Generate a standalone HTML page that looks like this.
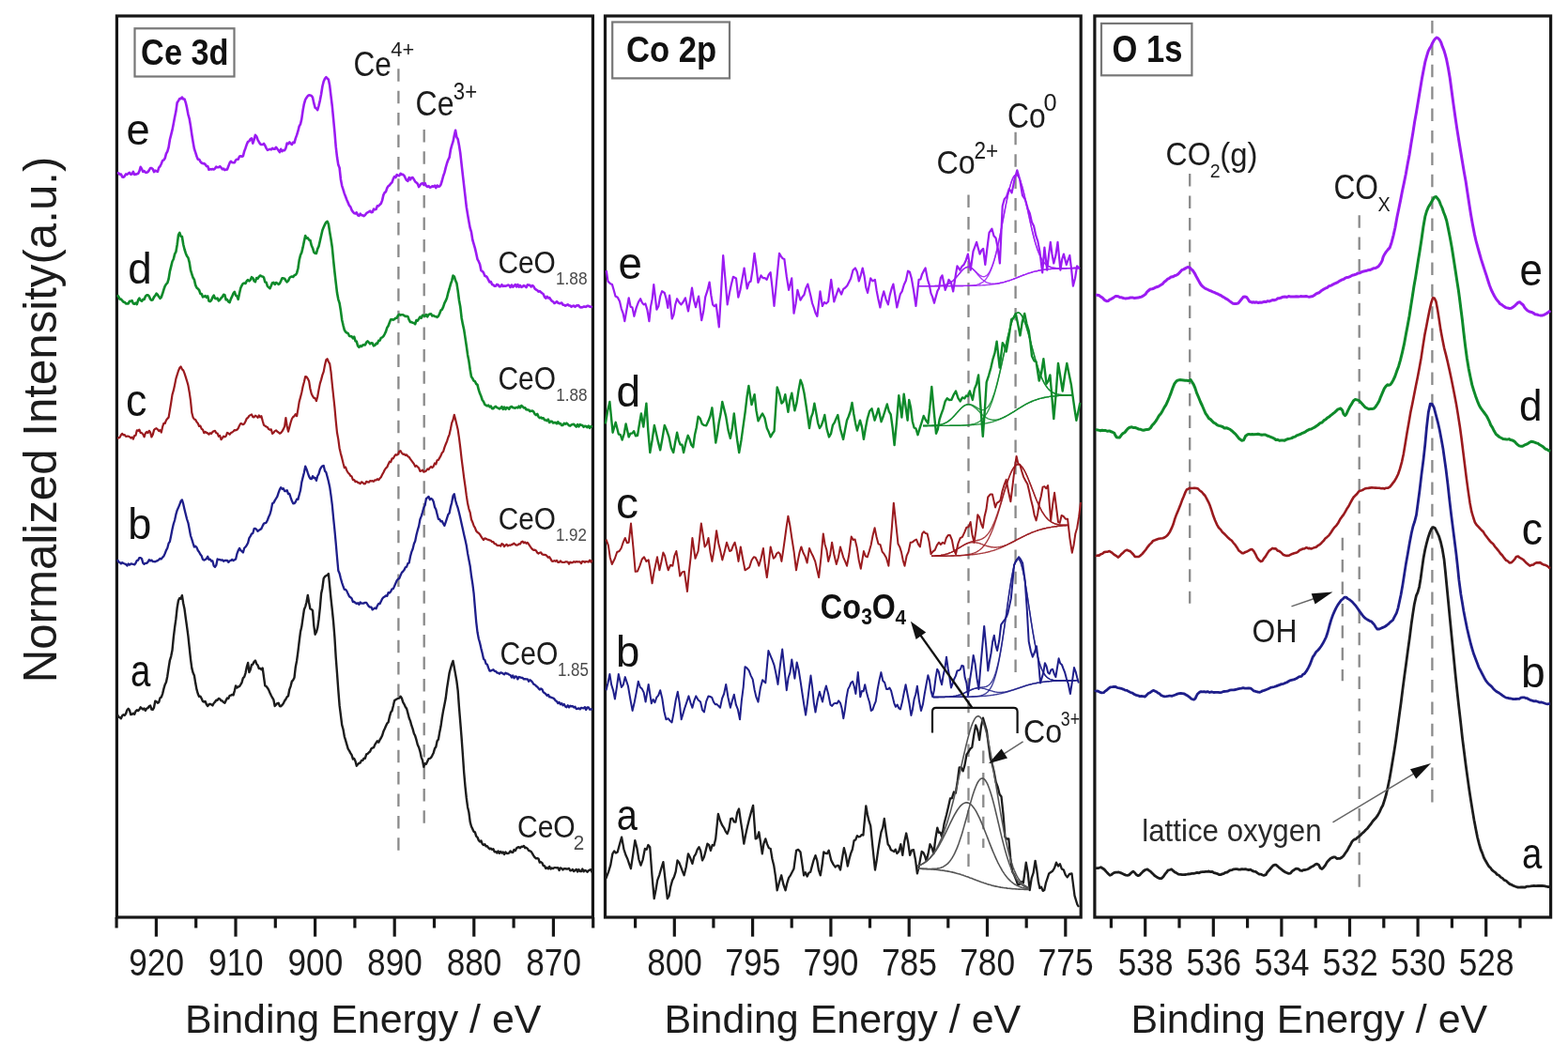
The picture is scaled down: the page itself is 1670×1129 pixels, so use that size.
<!DOCTYPE html>
<html><head><meta charset="utf-8"><style>html,body{margin:0;padding:0;background:#fff;}svg{display:block;}</style></head><body>
<svg width="1670" height="1129" viewBox="0 0 1670 1129" font-family="Liberation Sans, Arial, Helvetica, sans-serif">
<rect width="1670" height="1129" fill="#fff"/>
<g>
<rect x="124.4" y="17.0" width="507.0" height="960.0" fill="none" stroke="#161616" stroke-width="3.2"/>
<rect x="644.5" y="17.0" width="506.7" height="960.0" fill="none" stroke="#161616" stroke-width="3.2"/>
<rect x="1165.9" y="17.0" width="485.7" height="960.0" fill="none" stroke="#161616" stroke-width="3.2"/>
<line x1="166.4" y1="977.0" x2="166.4" y2="997.6" stroke="#161616" stroke-width="3.2"/>
<line x1="251.0" y1="977.0" x2="251.0" y2="997.6" stroke="#161616" stroke-width="3.2"/>
<line x1="335.6" y1="977.0" x2="335.6" y2="997.6" stroke="#161616" stroke-width="3.2"/>
<line x1="420.2" y1="977.0" x2="420.2" y2="997.6" stroke="#161616" stroke-width="3.2"/>
<line x1="504.8" y1="977.0" x2="504.8" y2="997.6" stroke="#161616" stroke-width="3.2"/>
<line x1="589.4" y1="977.0" x2="589.4" y2="997.6" stroke="#161616" stroke-width="3.2"/>
<line x1="124.1" y1="977.0" x2="124.1" y2="988.4" stroke="#161616" stroke-width="3.2"/>
<line x1="208.7" y1="977.0" x2="208.7" y2="988.4" stroke="#161616" stroke-width="3.2"/>
<line x1="293.3" y1="977.0" x2="293.3" y2="988.4" stroke="#161616" stroke-width="3.2"/>
<line x1="377.9" y1="977.0" x2="377.9" y2="988.4" stroke="#161616" stroke-width="3.2"/>
<line x1="462.5" y1="977.0" x2="462.5" y2="988.4" stroke="#161616" stroke-width="3.2"/>
<line x1="547.1" y1="977.0" x2="547.1" y2="988.4" stroke="#161616" stroke-width="3.2"/>
<line x1="631.7" y1="977.0" x2="631.7" y2="988.4" stroke="#161616" stroke-width="3.2"/>
<text x="137.3" y="1039.4" font-size="40.85" fill="#1c1c1c" textLength="58.7" lengthAdjust="spacingAndGlyphs">920</text>
<text x="221.9" y="1039.4" font-size="40.85" fill="#1c1c1c" textLength="58.7" lengthAdjust="spacingAndGlyphs">910</text>
<text x="306.5" y="1039.4" font-size="40.85" fill="#1c1c1c" textLength="58.7" lengthAdjust="spacingAndGlyphs">900</text>
<text x="391.1" y="1039.4" font-size="40.85" fill="#1c1c1c" textLength="58.7" lengthAdjust="spacingAndGlyphs">890</text>
<text x="475.7" y="1039.4" font-size="40.85" fill="#1c1c1c" textLength="58.7" lengthAdjust="spacingAndGlyphs">880</text>
<text x="560.3" y="1039.4" font-size="40.85" fill="#1c1c1c" textLength="58.7" lengthAdjust="spacingAndGlyphs">870</text>
<line x1="718.3" y1="977.0" x2="718.3" y2="997.6" stroke="#161616" stroke-width="3.2"/>
<line x1="801.6" y1="977.0" x2="801.6" y2="997.6" stroke="#161616" stroke-width="3.2"/>
<line x1="884.9" y1="977.0" x2="884.9" y2="997.6" stroke="#161616" stroke-width="3.2"/>
<line x1="968.2" y1="977.0" x2="968.2" y2="997.6" stroke="#161616" stroke-width="3.2"/>
<line x1="1051.5" y1="977.0" x2="1051.5" y2="997.6" stroke="#161616" stroke-width="3.2"/>
<line x1="1134.8" y1="977.0" x2="1134.8" y2="997.6" stroke="#161616" stroke-width="3.2"/>
<line x1="676.6" y1="977.0" x2="676.6" y2="988.4" stroke="#161616" stroke-width="3.2"/>
<line x1="759.9" y1="977.0" x2="759.9" y2="988.4" stroke="#161616" stroke-width="3.2"/>
<line x1="843.2" y1="977.0" x2="843.2" y2="988.4" stroke="#161616" stroke-width="3.2"/>
<line x1="926.5" y1="977.0" x2="926.5" y2="988.4" stroke="#161616" stroke-width="3.2"/>
<line x1="1009.8" y1="977.0" x2="1009.8" y2="988.4" stroke="#161616" stroke-width="3.2"/>
<line x1="1093.2" y1="977.0" x2="1093.2" y2="988.4" stroke="#161616" stroke-width="3.2"/>
<text x="689.2" y="1039.4" font-size="40.85" fill="#1c1c1c" textLength="58.7" lengthAdjust="spacingAndGlyphs">800</text>
<text x="772.3" y="1039.4" font-size="40.85" fill="#1c1c1c" textLength="59.1" lengthAdjust="spacingAndGlyphs">795</text>
<text x="855.6" y="1039.4" font-size="40.85" fill="#1c1c1c" textLength="58.9" lengthAdjust="spacingAndGlyphs">790</text>
<text x="938.9" y="1039.4" font-size="40.85" fill="#1c1c1c" textLength="59.1" lengthAdjust="spacingAndGlyphs">785</text>
<text x="1022.2" y="1039.4" font-size="40.85" fill="#1c1c1c" textLength="58.9" lengthAdjust="spacingAndGlyphs">780</text>
<text x="1105.5" y="1039.4" font-size="41.43" fill="#1c1c1c" textLength="59.1" lengthAdjust="spacingAndGlyphs">775</text>
<line x1="1219.7" y1="977.0" x2="1219.7" y2="997.6" stroke="#161616" stroke-width="3.2"/>
<line x1="1292.3" y1="977.0" x2="1292.3" y2="997.6" stroke="#161616" stroke-width="3.2"/>
<line x1="1364.9" y1="977.0" x2="1364.9" y2="997.6" stroke="#161616" stroke-width="3.2"/>
<line x1="1437.5" y1="977.0" x2="1437.5" y2="997.6" stroke="#161616" stroke-width="3.2"/>
<line x1="1510.1" y1="977.0" x2="1510.1" y2="997.6" stroke="#161616" stroke-width="3.2"/>
<line x1="1582.7" y1="977.0" x2="1582.7" y2="997.6" stroke="#161616" stroke-width="3.2"/>
<line x1="1183.4" y1="977.0" x2="1183.4" y2="988.4" stroke="#161616" stroke-width="3.2"/>
<line x1="1256.0" y1="977.0" x2="1256.0" y2="988.4" stroke="#161616" stroke-width="3.2"/>
<line x1="1328.6" y1="977.0" x2="1328.6" y2="988.4" stroke="#161616" stroke-width="3.2"/>
<line x1="1401.2" y1="977.0" x2="1401.2" y2="988.4" stroke="#161616" stroke-width="3.2"/>
<line x1="1473.8" y1="977.0" x2="1473.8" y2="988.4" stroke="#161616" stroke-width="3.2"/>
<line x1="1546.4" y1="977.0" x2="1546.4" y2="988.4" stroke="#161616" stroke-width="3.2"/>
<line x1="1619.0" y1="977.0" x2="1619.0" y2="988.4" stroke="#161616" stroke-width="3.2"/>
<text x="1190.8" y="1039.4" font-size="40.85" fill="#1c1c1c" textLength="58.7" lengthAdjust="spacingAndGlyphs">538</text>
<text x="1263.4" y="1039.4" font-size="40.85" fill="#1c1c1c" textLength="58.7" lengthAdjust="spacingAndGlyphs">536</text>
<text x="1336.0" y="1039.4" font-size="40.85" fill="#1c1c1c" textLength="58.4" lengthAdjust="spacingAndGlyphs">534</text>
<text x="1408.6" y="1039.4" font-size="40.85" fill="#1c1c1c" textLength="59.1" lengthAdjust="spacingAndGlyphs">532</text>
<text x="1481.2" y="1039.4" font-size="40.85" fill="#1c1c1c" textLength="58.6" lengthAdjust="spacingAndGlyphs">530</text>
<text x="1553.8" y="1039.4" font-size="40.85" fill="#1c1c1c" textLength="58.7" lengthAdjust="spacingAndGlyphs">528</text>
<text x="197.0" y="1099.5" font-size="42.99" fill="#1c1c1c" textLength="379.5" lengthAdjust="spacingAndGlyphs">Binding Energy / eV</text>
<text x="707.4" y="1099.5" font-size="42.99" fill="#1c1c1c" textLength="379.8" lengthAdjust="spacingAndGlyphs">Binding Energy / eV</text>
<text x="1204.6" y="1099.5" font-size="42.99" fill="#1c1c1c" textLength="379.6" lengthAdjust="spacingAndGlyphs">Binding Energy / eV</text>
<text transform="translate(0,723.4) rotate(-90)" x="-3.9" y="59.9" font-size="49.63" fill="#1c1c1c" textLength="560.6" lengthAdjust="spacingAndGlyphs">Normalized Intensity(a.u.)</text>
<rect x="143.5" y="30.3" width="106.0" height="51.2" fill="#fff" stroke="#777" stroke-width="2.2"/>
<text x="150.1" y="68.8" font-size="38.78" font-weight="bold" fill="#111" textLength="93.5" lengthAdjust="spacingAndGlyphs">Ce 3d</text>
<rect x="652.2" y="23.5" width="124.8" height="59.9" fill="#fff" stroke="#777" stroke-width="2.2"/>
<text x="666.9" y="65.5" font-size="38.79" font-weight="bold" fill="#111" textLength="96.3" lengthAdjust="spacingAndGlyphs">Co 2p</text>
<rect x="1173.0" y="25.0" width="96.4" height="55.3" fill="#fff" stroke="#777" stroke-width="2.2"/>
<text x="1184.6" y="65.5" font-size="39.72" font-weight="bold" fill="#111" textLength="74.8" lengthAdjust="spacingAndGlyphs">O 1s</text>
<line x1="424.4" y1="73.3" x2="424.4" y2="906.4" stroke="#8a8a8a" stroke-width="2.3" stroke-dasharray="13.5 9.9" stroke-dashoffset="0.0"/>
<line x1="451.7" y1="137.9" x2="451.7" y2="878.0" stroke="#8a8a8a" stroke-width="2.3" stroke-dasharray="13.5 9.9" stroke-dashoffset="0.0"/>
<line x1="1031.5" y1="207.5" x2="1031.5" y2="923.0" stroke="#8a8a8a" stroke-width="2.3" stroke-dasharray="13.5 9.9" stroke-dashoffset="0.0"/>
<line x1="1081.6" y1="140.8" x2="1081.6" y2="724.6" stroke="#8a8a8a" stroke-width="2.3" stroke-dasharray="13.5 9.9" stroke-dashoffset="0.0"/>
<line x1="1047.3" y1="799.6" x2="1047.3" y2="903.0" stroke="#8a8a8a" stroke-width="2.3" stroke-dasharray="13.5 9.9" stroke-dashoffset="0.0"/>
<line x1="1267.2" y1="185.1" x2="1267.2" y2="642.8" stroke="#8a8a8a" stroke-width="2.3" stroke-dasharray="13.5 9.9" stroke-dashoffset="0.0"/>
<line x1="1447.7" y1="229.2" x2="1447.7" y2="944.9" stroke="#8a8a8a" stroke-width="2.3" stroke-dasharray="13.5 9.9" stroke-dashoffset="0.0"/>
<line x1="1429.8" y1="572.7" x2="1429.8" y2="725.2" stroke="#8a8a8a" stroke-width="2.3" stroke-dasharray="13.5 9.9" stroke-dashoffset="0.0"/>
<line x1="1525.4" y1="22.0" x2="1525.4" y2="858.1" stroke="#8a8a8a" stroke-width="2.3" stroke-dasharray="13.5 9.9" stroke-dashoffset="0.0"/>
<path d="M125.0,183.9 L126.3,184.4 L127.6,185.8 L128.9,185.5 L130.2,188.4 L131.5,188.7 L132.8,187.5 L134.1,185.4 L135.4,185.9 L136.7,184.7 L138.0,183.9 L139.3,185.6 L140.6,185.4 L141.9,182.9 L143.2,186.0 L144.5,185.6 L145.8,185.4 L147.1,184.9 L148.4,182.3 L149.7,177.8 L151.0,180.0 L152.3,183.0 L153.6,182.2 L154.9,183.6 L156.2,183.7 L157.5,183.1 L158.8,181.4 L160.1,179.0 L161.4,179.1 L162.7,180.0 L164.0,183.1 L165.3,181.6 L166.6,182.3 L167.9,182.8 L169.2,178.7 L170.5,177.2 L171.8,174.5 L173.1,171.1 L174.4,170.4 L175.7,168.6 L177.0,163.7 L178.3,161.3 L179.6,156.9 L180.9,148.7 L182.2,143.6 L183.5,138.4 L184.8,131.7 L186.1,124.7 L187.4,118.6 L188.7,109.3 L190.0,107.5 L191.3,105.0 L192.6,105.3 L193.9,103.6 L195.2,105.5 L196.5,105.5 L197.8,109.3 L199.1,114.9 L200.4,121.8 L201.7,126.5 L203.0,134.1 L204.3,143.2 L205.6,151.3 L206.9,158.5 L208.2,162.3 L209.5,166.5 L210.8,169.8 L212.1,169.7 L213.4,172.1 L214.7,173.5 L216.0,174.2 L217.3,174.1 L218.6,175.1 L219.9,176.9 L221.2,177.0 L222.5,180.7 L223.8,180.1 L225.1,180.4 L226.4,180.0 L227.7,180.5 L229.0,179.5 L230.3,177.5 L231.6,178.3 L232.9,178.1 L234.2,177.2 L235.5,178.5 L236.8,180.2 L238.1,179.6 L239.4,181.1 L240.7,180.6 L242.0,180.4 L243.3,177.1 L244.6,173.6 L245.9,171.8 L247.2,172.9 L248.5,173.3 L249.8,173.3 L251.1,170.5 L252.4,169.7 L253.7,169.6 L255.0,166.8 L256.3,166.2 L257.6,166.7 L258.9,166.2 L260.2,161.1 L261.5,157.7 L262.8,153.8 L264.1,150.9 L265.4,150.4 L266.7,148.2 L268.0,147.4 L269.3,152.7 L270.6,148.9 L271.9,143.8 L273.2,145.3 L274.5,148.8 L275.8,151.2 L277.1,153.3 L278.4,154.0 L279.7,154.0 L281.0,153.0 L282.3,155.0 L283.6,157.9 L284.9,159.9 L286.2,159.4 L287.5,158.9 L288.8,159.4 L290.1,157.9 L291.4,158.7 L292.7,158.8 L294.0,156.8 L295.3,158.5 L296.6,160.2 L297.9,162.1 L299.2,158.8 L300.5,161.1 L301.8,160.0 L303.1,160.1 L304.4,157.8 L305.7,152.6 L307.0,153.1 L308.3,151.5 L309.6,152.9 L310.9,153.9 L312.2,151.6 L313.5,152.1 L314.8,147.4 L316.1,143.9 L317.4,139.7 L318.7,134.4 L320.0,132.3 L321.3,126.6 L322.6,117.5 L323.9,110.6 L325.2,106.1 L326.5,104.0 L327.8,102.2 L329.1,101.4 L330.4,101.5 L331.7,101.9 L333.0,103.8 L334.3,109.9 L335.6,114.6 L336.9,115.5 L338.2,117.2 L339.5,112.6 L340.8,107.1 L342.1,100.3 L343.4,92.0 L344.7,86.7 L346.0,83.9 L347.3,82.2 L348.6,83.5 L349.9,84.7 L351.2,91.3 L352.5,102.3 L353.8,113.0 L355.1,126.6 L356.4,140.4 L357.7,156.2 L359.0,167.3 L360.3,175.6 L361.6,178.8 L362.9,190.9 L364.2,197.8 L365.5,201.8 L366.8,206.1 L368.1,209.5 L369.4,213.0 L370.7,215.9 L372.0,218.9 L373.3,220.4 L374.6,223.8 L375.9,225.7 L377.2,227.1 L378.5,227.5 L379.8,226.3 L381.1,229.3 L382.4,229.8 L383.7,227.7 L385.0,229.2 L386.3,229.4 L387.6,230.1 L388.9,229.0 L390.2,227.3 L391.5,226.3 L392.8,225.6 L394.1,224.7 L395.4,226.2 L396.7,226.0 L398.0,222.6 L399.3,223.3 L400.6,222.8 L401.9,219.3 L403.2,219.5 L404.5,218.0 L405.8,216.8 L407.1,213.4 L408.4,207.6 L409.7,205.1 L411.0,204.1 L412.3,200.2 L413.6,198.1 L414.9,197.3 L416.2,195.4 L417.5,194.3 L418.8,190.6 L420.1,188.0 L421.4,189.0 L422.7,186.1 L424.0,187.0 L425.3,187.2 L426.6,184.9 L427.9,185.9 L429.2,185.8 L430.5,187.1 L431.8,189.8 L433.1,192.0 L434.4,192.8 L435.7,189.1 L437.0,191.3 L438.3,189.3 L439.6,189.1 L440.9,191.1 L442.2,193.5 L443.5,194.5 L444.8,195.7 L446.1,199.1 L447.4,197.2 L448.7,195.6 L450.0,195.1 L451.3,196.8 L452.6,195.1 L453.9,198.0 L455.2,198.9 L456.5,198.2 L457.8,199.7 L459.1,199.2 L460.4,198.2 L461.7,198.8 L463.0,197.7 L464.3,200.1 L465.6,197.5 L466.9,198.8 L468.2,198.4 L469.5,196.7 L470.8,192.5 L472.1,187.5 L473.4,183.9 L474.7,178.6 L476.0,174.0 L477.3,170.3 L478.6,167.7 L479.9,159.7 L481.2,154.8 L482.5,150.9 L483.8,144.6 L485.1,138.7 L486.4,146.1 L487.7,148.2 L489.0,155.0 L490.3,163.3 L491.6,175.1 L492.9,186.7 L494.2,197.9 L495.5,209.1 L496.8,220.5 L498.1,228.5 L499.4,236.0 L500.7,242.9 L502.0,247.1 L503.3,255.5 L504.6,259.8 L505.9,264.4 L507.2,269.9 L508.5,276.1 L509.8,278.4 L511.1,281.4 L512.4,288.1 L513.7,288.9 L515.0,290.4 L516.3,293.9 L517.6,294.1 L518.9,295.5 L520.2,298.2 L521.5,300.5 L522.8,300.0 L524.1,303.1 L525.4,303.5 L526.7,304.7 L528.0,304.6 L529.3,302.9 L530.6,303.4 L531.9,305.1 L533.2,305.1 L534.5,303.2 L535.8,304.9 L537.1,304.4 L538.4,304.7 L539.7,304.2 L541.0,303.6 L542.3,304.0 L543.6,306.0 L544.9,303.5 L546.2,305.7 L547.5,304.6 L548.8,303.1 L550.1,305.5 L551.4,303.0 L552.7,305.6 L554.0,304.0 L555.3,305.8 L556.6,305.2 L557.9,304.0 L559.2,304.9 L560.5,306.1 L561.8,303.4 L563.1,303.6 L564.4,303.8 L565.7,305.5 L567.0,304.0 L568.3,305.1 L569.6,307.4 L570.9,308.5 L572.2,309.1 L573.5,310.6 L574.8,310.1 L576.1,311.2 L577.4,312.3 L578.7,313.2 L580.0,316.3 L581.3,317.7 L582.6,315.8 L583.9,317.4 L585.2,317.0 L586.5,319.1 L587.8,320.6 L589.1,321.3 L590.4,323.0 L591.7,322.3 L593.0,321.1 L594.3,322.5 L595.6,323.1 L596.9,323.1 L598.2,322.5 L599.5,324.7 L600.8,324.7 L602.1,325.7 L603.4,325.0 L604.7,324.4 L606.0,325.4 L607.3,325.5 L608.6,326.8 L609.9,325.9 L611.2,325.6 L612.5,326.9 L613.8,325.6 L615.1,325.4 L616.4,325.4 L617.7,327.2 L619.0,327.4 L620.3,327.3 L621.6,326.5 L622.9,326.6 L624.2,326.9 L625.5,325.7 L626.8,325.9 L628.1,326.6 L629.4,326.8 L630.7,327.2" fill="none" stroke="#9B1BF2" stroke-width="2.6" stroke-linejoin="round"/>
<path d="M125.0,314.2 L126.3,316.0 L127.6,318.6 L128.9,318.6 L130.2,320.1 L131.5,321.8 L132.8,321.9 L134.1,323.5 L135.4,323.4 L136.7,323.4 L138.0,320.7 L139.3,320.9 L140.6,320.2 L141.9,323.3 L143.2,323.8 L144.5,322.6 L145.8,324.1 L147.1,319.8 L148.4,317.7 L149.7,319.9 L151.0,320.7 L152.3,318.9 L153.6,318.9 L154.9,315.7 L156.2,314.4 L157.5,314.3 L158.8,315.4 L160.1,318.6 L161.4,319.8 L162.7,319.3 L164.0,316.4 L165.3,314.9 L166.6,312.6 L167.9,314.0 L169.2,315.9 L170.5,317.9 L171.8,316.5 L173.1,312.8 L174.4,308.5 L175.7,304.8 L177.0,302.6 L178.3,301.4 L179.6,297.2 L180.9,289.1 L182.2,283.9 L183.5,278.5 L184.8,276.0 L186.1,270.6 L187.4,268.2 L188.7,260.5 L190.0,250.4 L191.3,247.8 L192.6,251.7 L193.9,252.0 L195.2,260.3 L196.5,265.5 L197.8,269.7 L199.1,272.8 L200.4,274.5 L201.7,279.3 L203.0,287.6 L204.3,291.8 L205.6,295.8 L206.9,297.9 L208.2,303.6 L209.5,306.5 L210.8,307.6 L212.1,309.0 L213.4,312.9 L214.7,313.1 L216.0,316.3 L217.3,315.9 L218.6,315.1 L219.9,316.8 L221.2,315.5 L222.5,320.6 L223.8,321.1 L225.1,319.8 L226.4,316.7 L227.7,314.6 L229.0,317.8 L230.3,318.2 L231.6,317.6 L232.9,320.4 L234.2,319.2 L235.5,317.5 L236.8,316.1 L238.1,313.8 L239.4,314.3 L240.7,319.3 L242.0,319.1 L243.3,321.4 L244.6,322.1 L245.9,318.3 L247.2,315.7 L248.5,312.6 L249.8,310.9 L251.1,314.6 L252.4,315.5 L253.7,318.8 L255.0,312.6 L256.3,306.8 L257.6,304.0 L258.9,301.9 L260.2,301.6 L261.5,301.9 L262.8,299.2 L264.1,298.1 L265.4,299.4 L266.7,298.1 L268.0,295.2 L269.3,296.1 L270.6,299.2 L271.9,300.2 L273.2,296.1 L274.5,296.7 L275.8,294.8 L277.1,293.5 L278.4,294.2 L279.7,294.5 L281.0,295.5 L282.3,300.5 L283.6,300.8 L284.9,304.9 L286.2,306.1 L287.5,307.2 L288.8,304.2 L290.1,301.2 L291.4,300.9 L292.7,302.9 L294.0,301.0 L295.3,301.6 L296.6,302.9 L297.9,302.0 L299.2,299.3 L300.5,296.3 L301.8,296.4 L303.1,296.8 L304.4,298.8 L305.7,300.3 L307.0,299.1 L308.3,296.2 L309.6,294.9 L310.9,294.5 L312.2,294.9 L313.5,293.2 L314.8,292.7 L316.1,290.9 L317.4,286.0 L318.7,277.1 L320.0,271.8 L321.3,268.9 L322.6,263.4 L323.9,257.1 L325.2,251.1 L326.5,253.8 L327.8,253.4 L329.1,255.5 L330.4,255.9 L331.7,261.3 L333.0,264.2 L334.3,268.5 L335.6,269.8 L336.9,270.0 L338.2,265.1 L339.5,262.4 L340.8,256.7 L342.1,251.0 L343.4,245.2 L344.7,242.0 L346.0,239.1 L347.3,236.7 L348.6,235.8 L349.9,238.8 L351.2,247.2 L352.5,254.8 L353.8,263.5 L355.1,277.0 L356.4,289.5 L357.7,300.8 L359.0,311.8 L360.3,318.8 L361.6,322.9 L362.9,330.8 L364.2,340.7 L365.5,346.3 L366.8,351.3 L368.1,353.5 L369.4,354.6 L370.7,355.0 L372.0,357.7 L373.3,358.2 L374.6,358.4 L375.9,360.4 L377.2,358.7 L378.5,363.2 L379.8,363.8 L381.1,368.4 L382.4,369.8 L383.7,368.3 L385.0,369.0 L386.3,367.6 L387.6,367.3 L388.9,367.5 L390.2,364.6 L391.5,363.3 L392.8,364.7 L394.1,366.3 L395.4,365.2 L396.7,365.6 L398.0,368.4 L399.3,367.9 L400.6,365.9 L401.9,366.1 L403.2,362.9 L404.5,362.7 L405.8,359.9 L407.1,359.4 L408.4,358.1 L409.7,355.8 L411.0,353.1 L412.3,348.9 L413.6,347.0 L414.9,343.5 L416.2,340.3 L417.5,340.3 L418.8,340.7 L420.1,340.0 L421.4,338.8 L422.7,338.8 L424.0,335.9 L425.3,334.8 L426.6,335.6 L427.9,335.2 L429.2,335.2 L430.5,336.1 L431.8,337.0 L433.1,336.8 L434.4,337.2 L435.7,340.7 L437.0,343.0 L438.3,343.1 L439.6,343.7 L440.9,344.1 L442.2,345.2 L443.5,341.0 L444.8,341.6 L446.1,339.6 L447.4,337.5 L448.7,338.7 L450.0,335.9 L451.3,336.0 L452.6,336.7 L453.9,335.0 L455.2,337.3 L456.5,335.1 L457.8,334.5 L459.1,334.4 L460.4,336.5 L461.7,336.1 L463.0,336.9 L464.3,337.2 L465.6,337.9 L466.9,336.7 L468.2,334.0 L469.5,330.6 L470.8,329.6 L472.1,326.9 L473.4,322.8 L474.7,320.4 L476.0,317.3 L477.3,311.8 L478.6,307.5 L479.9,302.8 L481.2,299.1 L482.5,293.6 L483.8,294.5 L485.1,298.8 L486.4,301.6 L487.7,309.9 L489.0,320.0 L490.3,327.1 L491.6,338.4 L492.9,345.4 L494.2,351.2 L495.5,359.9 L496.8,368.5 L498.1,377.9 L499.4,384.6 L500.7,393.7 L502.0,401.3 L503.3,403.1 L504.6,405.6 L505.9,406.2 L507.2,408.9 L508.5,409.9 L509.8,415.2 L511.1,419.1 L512.4,422.1 L513.7,426.0 L515.0,427.7 L516.3,430.7 L517.6,431.7 L518.9,432.4 L520.2,431.7 L521.5,433.3 L522.8,432.5 L524.1,435.2 L525.4,435.1 L526.7,433.6 L528.0,432.9 L529.3,434.1 L530.6,434.6 L531.9,435.4 L533.2,434.6 L534.5,433.2 L535.8,435.8 L537.1,433.6 L538.4,436.0 L539.7,434.1 L541.0,434.5 L542.3,435.7 L543.6,433.4 L544.9,433.1 L546.2,434.1 L547.5,434.5 L548.8,434.6 L550.1,433.9 L551.4,434.4 L552.7,432.7 L554.0,434.3 L555.3,432.0 L556.6,433.0 L557.9,434.5 L559.2,434.2 L560.5,436.2 L561.8,436.4 L563.1,436.5 L564.4,438.1 L565.7,437.7 L567.0,437.5 L568.3,438.6 L569.6,441.0 L570.9,442.1 L572.2,440.8 L573.5,443.8 L574.8,445.1 L576.1,444.6 L577.4,445.6 L578.7,445.3 L580.0,447.3 L581.3,447.5 L582.6,448.2 L583.9,446.7 L585.2,450.0 L586.5,448.9 L587.8,448.8 L589.1,450.5 L590.4,450.0 L591.7,450.1 L593.0,451.1 L594.3,449.4 L595.6,451.2 L596.9,451.0 L598.2,452.9 L599.5,452.9 L600.8,450.9 L602.1,451.7 L603.4,450.7 L604.7,451.8 L606.0,453.2 L607.3,453.6 L608.6,452.4 L609.9,452.0 L611.2,451.8 L612.5,453.3 L613.8,454.5 L615.1,452.1 L616.4,454.4 L617.7,452.1 L619.0,452.8 L620.3,453.1 L621.6,454.8 L622.9,453.8 L624.2,454.1 L625.5,455.1 L626.8,453.6 L628.1,455.8 L629.4,454.0 L630.7,455.1" fill="none" stroke="#0E8A2A" stroke-width="2.6" stroke-linejoin="round"/>
<path d="M125.0,466.8 L126.3,466.5 L127.6,465.7 L128.9,463.2 L130.2,461.9 L131.5,463.3 L132.8,463.1 L134.1,465.0 L135.4,464.7 L136.7,464.6 L138.0,465.3 L139.3,466.5 L140.6,465.7 L141.9,467.5 L143.2,464.0 L144.5,463.7 L145.8,458.4 L147.1,458.8 L148.4,457.7 L149.7,461.0 L151.0,461.1 L152.3,462.6 L153.6,465.3 L154.9,461.4 L156.2,460.0 L157.5,461.2 L158.8,458.8 L160.1,460.4 L161.4,465.5 L162.7,463.1 L164.0,458.1 L165.3,456.7 L166.6,456.2 L167.9,457.4 L169.2,459.0 L170.5,458.2 L171.8,460.5 L173.1,454.7 L174.4,450.8 L175.7,451.0 L177.0,447.7 L178.3,445.9 L179.6,444.6 L180.9,436.9 L182.2,429.0 L183.5,420.4 L184.8,415.9 L186.1,409.9 L187.4,403.4 L188.7,399.2 L190.0,395.0 L191.3,391.8 L192.6,390.5 L193.9,393.3 L195.2,394.4 L196.5,397.6 L197.8,401.6 L199.1,405.8 L200.4,410.4 L201.7,417.7 L203.0,426.6 L204.3,439.5 L205.6,444.6 L206.9,446.5 L208.2,447.1 L209.5,449.4 L210.8,451.0 L212.1,454.0 L213.4,453.6 L214.7,456.8 L216.0,457.6 L217.3,461.2 L218.6,459.8 L219.9,460.9 L221.2,461.4 L222.5,462.7 L223.8,461.1 L225.1,461.9 L226.4,460.0 L227.7,459.2 L229.0,458.8 L230.3,461.2 L231.6,461.5 L232.9,464.8 L234.2,464.0 L235.5,468.2 L236.8,466.6 L238.1,464.7 L239.4,465.3 L240.7,464.5 L242.0,460.9 L243.3,461.5 L244.6,462.8 L245.9,461.1 L247.2,460.5 L248.5,459.5 L249.8,458.1 L251.1,458.3 L252.4,457.8 L253.7,456.2 L255.0,453.2 L256.3,451.0 L257.6,451.4 L258.9,452.2 L260.2,451.3 L261.5,448.8 L262.8,445.7 L264.1,444.9 L265.4,442.9 L266.7,442.1 L268.0,441.4 L269.3,444.1 L270.6,444.4 L271.9,442.6 L273.2,443.4 L274.5,444.9 L275.8,442.5 L277.1,444.3 L278.4,443.2 L279.7,448.3 L281.0,452.8 L282.3,453.6 L283.6,454.5 L284.9,455.1 L286.2,457.1 L287.5,457.8 L288.8,457.3 L290.1,461.9 L291.4,460.9 L292.7,459.1 L294.0,458.4 L295.3,459.6 L296.6,460.5 L297.9,461.7 L299.2,461.0 L300.5,459.4 L301.8,457.1 L303.1,454.3 L304.4,445.0 L305.7,453.9 L307.0,459.6 L308.3,454.9 L309.6,450.0 L310.9,446.0 L312.2,444.0 L313.5,443.2 L314.8,441.2 L316.1,443.2 L317.4,435.9 L318.7,427.9 L320.0,423.1 L321.3,418.0 L322.6,411.5 L323.9,406.8 L325.2,401.0 L326.5,401.3 L327.8,403.3 L329.1,405.9 L330.4,414.0 L331.7,419.3 L333.0,421.9 L334.3,423.9 L335.6,424.1 L336.9,427.1 L338.2,422.5 L339.5,415.1 L340.8,408.6 L342.1,404.4 L343.4,399.4 L344.7,395.9 L346.0,388.9 L347.3,383.4 L348.6,382.2 L349.9,385.3 L351.2,387.4 L352.5,396.1 L353.8,409.3 L355.1,421.5 L356.4,433.7 L357.7,448.1 L359.0,460.8 L360.3,467.9 L361.6,477.5 L362.9,483.1 L364.2,487.9 L365.5,493.3 L366.8,498.1 L368.1,497.6 L369.4,501.3 L370.7,503.5 L372.0,504.7 L373.3,506.8 L374.6,507.5 L375.9,511.1 L377.2,511.1 L378.5,513.1 L379.8,512.7 L381.1,513.9 L382.4,514.4 L383.7,515.2 L385.0,513.3 L386.3,514.0 L387.6,515.3 L388.9,515.2 L390.2,512.8 L391.5,513.4 L392.8,513.7 L394.1,512.1 L395.4,512.5 L396.7,512.1 L398.0,512.9 L399.3,511.3 L400.6,511.5 L401.9,510.2 L403.2,511.2 L404.5,509.6 L405.8,508.2 L407.1,505.6 L408.4,503.2 L409.7,500.5 L411.0,498.6 L412.3,497.5 L413.6,494.4 L414.9,491.7 L416.2,492.1 L417.5,488.3 L418.8,488.3 L420.1,485.9 L421.4,484.2 L422.7,484.7 L424.0,483.7 L425.3,480.8 L426.6,480.2 L427.9,482.5 L429.2,483.8 L430.5,483.7 L431.8,484.9 L433.1,484.4 L434.4,486.2 L435.7,486.8 L437.0,488.9 L438.3,490.6 L439.6,492.3 L440.9,494.1 L442.2,496.9 L443.5,496.0 L444.8,497.2 L446.1,498.5 L447.4,501.9 L448.7,501.5 L450.0,500.7 L451.3,502.7 L452.6,502.2 L453.9,501.5 L455.2,499.5 L456.5,500.1 L457.8,498.2 L459.1,497.0 L460.4,498.1 L461.7,496.7 L463.0,493.4 L464.3,494.3 L465.6,490.2 L466.9,489.9 L468.2,487.6 L469.5,485.4 L470.8,482.3 L472.1,481.0 L473.4,476.6 L474.7,473.2 L476.0,470.1 L477.3,466.0 L478.6,462.8 L479.9,457.0 L481.2,450.4 L482.5,447.3 L483.8,441.8 L485.1,446.7 L486.4,452.2 L487.7,457.8 L489.0,466.7 L490.3,477.0 L491.6,488.7 L492.9,498.7 L494.2,509.0 L495.5,518.0 L496.8,527.9 L498.1,536.3 L499.4,542.1 L500.7,545.9 L502.0,553.2 L503.3,556.2 L504.6,560.0 L505.9,562.1 L507.2,565.5 L508.5,567.0 L509.8,567.8 L511.1,569.2 L512.4,571.4 L513.7,573.4 L515.0,575.1 L516.3,573.4 L517.6,573.8 L518.9,574.5 L520.2,574.9 L521.5,575.4 L522.8,575.8 L524.1,577.2 L525.4,577.1 L526.7,579.2 L528.0,579.3 L529.3,580.8 L530.6,581.1 L531.9,580.8 L533.2,581.7 L534.5,579.1 L535.8,579.8 L537.1,582.1 L538.4,580.6 L539.7,579.8 L541.0,581.5 L542.3,580.5 L543.6,580.8 L544.9,580.1 L546.2,579.6 L547.5,578.7 L548.8,580.0 L550.1,580.7 L551.4,580.5 L552.7,579.4 L554.0,579.5 L555.3,577.3 L556.6,576.7 L557.9,578.3 L559.2,577.5 L560.5,578.8 L561.8,577.8 L563.1,579.7 L564.4,581.6 L565.7,583.5 L567.0,585.0 L568.3,585.9 L569.6,585.6 L570.9,586.4 L572.2,588.6 L573.5,589.6 L574.8,588.7 L576.1,588.4 L577.4,590.4 L578.7,590.8 L580.0,590.9 L581.3,591.1 L582.6,592.3 L583.9,593.9 L585.2,593.2 L586.5,595.4 L587.8,597.6 L589.1,597.8 L590.4,597.1 L591.7,597.8 L593.0,596.9 L594.3,599.0 L595.6,598.8 L596.9,597.4 L598.2,598.7 L599.5,598.9 L600.8,599.0 L602.1,598.4 L603.4,598.3 L604.7,598.5 L606.0,600.7 L607.3,598.6 L608.6,599.3 L609.9,599.1 L611.2,598.1 L612.5,598.8 L613.8,598.1 L615.1,598.3 L616.4,598.4 L617.7,598.3 L619.0,600.1 L620.3,597.9 L621.6,598.0 L622.9,598.9 L624.2,598.0 L625.5,598.3 L626.8,598.6 L628.1,596.7 L629.4,598.5 L630.7,596.7" fill="none" stroke="#9A1A1E" stroke-width="2.2" stroke-linejoin="round"/>
<path d="M125.0,596.2 L126.3,598.4 L127.6,599.1 L128.9,600.4 L130.2,599.1 L131.5,600.0 L132.8,600.5 L134.1,601.1 L135.4,602.6 L136.7,600.5 L138.0,601.7 L139.3,600.5 L140.6,600.7 L141.9,601.0 L143.2,601.4 L144.5,599.8 L145.8,597.0 L147.1,596.7 L148.4,594.1 L149.7,594.1 L151.0,595.2 L152.3,599.6 L153.6,600.9 L154.9,599.9 L156.2,599.9 L157.5,598.6 L158.8,596.2 L160.1,597.4 L161.4,596.6 L162.7,598.1 L164.0,598.1 L165.3,598.3 L166.6,597.6 L167.9,597.1 L169.2,596.1 L170.5,594.9 L171.8,595.4 L173.1,593.6 L174.4,592.4 L175.7,589.5 L177.0,586.1 L178.3,583.7 L179.6,578.7 L180.9,576.8 L182.2,570.4 L183.5,563.8 L184.8,558.1 L186.1,554.0 L187.4,547.9 L188.7,543.4 L190.0,540.6 L191.3,537.3 L192.6,533.8 L193.9,532.4 L195.2,536.7 L196.5,542.5 L197.8,547.8 L199.1,553.0 L200.4,556.8 L201.7,563.5 L203.0,570.5 L204.3,574.3 L205.6,578.7 L206.9,582.6 L208.2,581.8 L209.5,583.1 L210.8,586.3 L212.1,588.0 L213.4,590.5 L214.7,592.1 L216.0,595.8 L217.3,596.6 L218.6,596.0 L219.9,595.1 L221.2,592.8 L222.5,596.0 L223.8,595.6 L225.1,597.7 L226.4,597.4 L227.7,602.7 L229.0,604.0 L230.3,601.9 L231.6,595.5 L232.9,596.0 L234.2,596.2 L235.5,596.6 L236.8,596.3 L238.1,597.8 L239.4,596.9 L240.7,597.0 L242.0,596.9 L243.3,598.9 L244.6,597.3 L245.9,597.0 L247.2,595.9 L248.5,597.1 L249.8,596.2 L251.1,595.5 L252.4,589.9 L253.7,586.5 L255.0,583.9 L256.3,586.1 L257.6,587.2 L258.9,588.5 L260.2,583.8 L261.5,582.5 L262.8,580.6 L264.1,578.3 L265.4,573.1 L266.7,571.1 L268.0,568.6 L269.3,568.0 L270.6,563.2 L271.9,562.9 L273.2,563.9 L274.5,565.8 L275.8,564.8 L277.1,564.1 L278.4,563.0 L279.7,560.1 L281.0,557.6 L282.3,557.2 L283.6,556.6 L284.9,554.0 L286.2,550.5 L287.5,547.7 L288.8,543.1 L290.1,536.3 L291.4,535.6 L292.7,533.1 L294.0,531.0 L295.3,528.9 L296.6,524.8 L297.9,521.4 L299.2,519.2 L300.5,520.9 L301.8,520.3 L303.1,523.0 L304.4,523.0 L305.7,522.1 L307.0,526.1 L308.3,525.9 L309.6,529.9 L310.9,533.6 L312.2,536.3 L313.5,536.2 L314.8,534.6 L316.1,531.6 L317.4,531.9 L318.7,527.0 L320.0,522.3 L321.3,513.6 L322.6,508.4 L323.9,503.2 L325.2,496.6 L326.5,499.6 L327.8,503.7 L329.1,507.4 L330.4,509.8 L331.7,510.2 L333.0,507.1 L334.3,509.2 L335.6,508.8 L336.9,511.9 L338.2,507.0 L339.5,504.7 L340.8,500.1 L342.1,497.7 L343.4,496.3 L344.7,496.0 L346.0,501.6 L347.3,503.0 L348.6,507.7 L349.9,512.8 L351.2,518.7 L352.5,527.6 L353.8,537.9 L355.1,551.7 L356.4,564.3 L357.7,578.3 L359.0,593.5 L360.3,607.7 L361.6,610.8 L362.9,616.0 L364.2,620.6 L365.5,624.5 L366.8,627.9 L368.1,627.8 L369.4,629.6 L370.7,632.6 L372.0,635.3 L373.3,636.2 L374.6,637.3 L375.9,641.2 L377.2,640.9 L378.5,642.1 L379.8,642.9 L381.1,642.2 L382.4,643.9 L383.7,641.4 L385.0,642.7 L386.3,642.7 L387.6,642.5 L388.9,641.8 L390.2,641.9 L391.5,643.8 L392.8,645.8 L394.1,646.7 L395.4,646.6 L396.7,649.4 L398.0,648.4 L399.3,647.6 L400.6,648.3 L401.9,645.1 L403.2,643.0 L404.5,643.2 L405.8,640.6 L407.1,637.7 L408.4,636.3 L409.7,635.6 L411.0,634.4 L412.3,634.8 L413.6,631.1 L414.9,631.6 L416.2,630.1 L417.5,627.3 L418.8,627.1 L420.1,624.2 L421.4,621.2 L422.7,618.3 L424.0,616.8 L425.3,616.0 L426.6,612.9 L427.9,609.9 L429.2,608.6 L430.5,607.1 L431.8,604.3 L433.1,603.7 L434.4,600.1 L435.7,599.5 L437.0,592.8 L438.3,587.9 L439.6,584.8 L440.9,579.3 L442.2,576.3 L443.5,569.8 L444.8,564.7 L446.1,560.4 L447.4,553.2 L448.7,549.9 L450.0,545.5 L451.3,540.7 L452.6,538.3 L453.9,531.2 L455.2,530.1 L456.5,528.9 L457.8,532.2 L459.1,531.0 L460.4,531.7 L461.7,534.2 L463.0,540.1 L464.3,542.5 L465.6,547.8 L466.9,552.8 L468.2,553.2 L469.5,555.4 L470.8,555.0 L472.1,557.7 L473.4,559.9 L474.7,556.1 L476.0,552.2 L477.3,548.0 L478.6,546.5 L479.9,540.1 L481.2,535.2 L482.5,528.2 L483.8,526.2 L485.1,533.0 L486.4,537.3 L487.7,541.2 L489.0,546.3 L490.3,551.7 L491.6,557.8 L492.9,563.5 L494.2,569.4 L495.5,574.9 L496.8,581.0 L498.1,589.4 L499.4,596.3 L500.7,603.0 L502.0,613.3 L503.3,621.7 L504.6,631.8 L505.9,647.3 L507.2,662.3 L508.5,673.3 L509.8,680.3 L511.1,684.8 L512.4,690.6 L513.7,695.7 L515.0,701.8 L516.3,702.8 L517.6,707.0 L518.9,707.7 L520.2,711.4 L521.5,714.7 L522.8,714.5 L524.1,713.8 L525.4,713.2 L526.7,714.8 L528.0,714.9 L529.3,716.5 L530.6,716.7 L531.9,717.7 L533.2,716.3 L534.5,716.6 L535.8,717.5 L537.1,718.4 L538.4,716.7 L539.7,717.5 L541.0,717.7 L542.3,718.7 L543.6,719.0 L544.9,721.5 L546.2,719.5 L547.5,722.2 L548.8,720.5 L550.1,720.6 L551.4,723.4 L552.7,721.0 L554.0,721.4 L555.3,721.8 L556.6,722.0 L557.9,723.4 L559.2,723.2 L560.5,723.4 L561.8,723.3 L563.1,725.8 L564.4,724.1 L565.7,725.1 L567.0,726.5 L568.3,728.7 L569.6,729.2 L570.9,730.5 L572.2,731.6 L573.5,733.1 L574.8,734.5 L576.1,733.4 L577.4,734.2 L578.7,737.2 L580.0,738.1 L581.3,739.2 L582.6,740.9 L583.9,739.9 L585.2,742.4 L586.5,742.4 L587.8,743.2 L589.1,743.5 L590.4,744.5 L591.7,746.3 L593.0,747.1 L594.3,749.1 L595.6,748.0 L596.9,750.2 L598.2,749.1 L599.5,751.2 L600.8,750.0 L602.1,752.5 L603.4,753.2 L604.7,751.3 L606.0,753.4 L607.3,751.8 L608.6,752.4 L609.9,752.1 L611.2,753.5 L612.5,752.8 L613.8,755.0 L615.1,754.9 L616.4,754.4 L617.7,755.4 L619.0,753.8 L620.3,754.2 L621.6,754.3 L622.9,753.1 L624.2,755.9 L625.5,753.4 L626.8,753.4 L628.1,755.7 L629.4,755.7 L630.7,754.8" fill="none" stroke="#1E1E8A" stroke-width="2.3" stroke-linejoin="round"/>
<path d="M125.0,761.1 L126.3,763.7 L127.6,764.2 L128.9,765.2 L130.2,762.2 L131.5,761.3 L132.8,761.9 L134.1,760.0 L135.4,756.2 L136.7,754.8 L138.0,756.6 L139.3,761.1 L140.6,760.8 L141.9,759.8 L143.2,760.7 L144.5,757.6 L145.8,756.2 L147.1,757.1 L148.4,755.7 L149.7,753.3 L151.0,754.5 L152.3,755.5 L153.6,754.6 L154.9,756.8 L156.2,754.6 L157.5,754.2 L158.8,752.3 L160.1,751.6 L161.4,755.5 L162.7,755.9 L164.0,753.6 L165.3,746.6 L166.6,747.3 L167.9,748.8 L169.2,747.9 L170.5,743.5 L171.8,742.5 L173.1,739.1 L174.4,733.6 L175.7,729.2 L177.0,726.5 L178.3,720.2 L179.6,711.3 L180.9,703.3 L182.2,699.1 L183.5,692.6 L184.8,679.1 L186.1,668.3 L187.4,659.2 L188.7,647.2 L190.0,639.5 L191.3,637.1 L192.6,637.8 L193.9,634.2 L195.2,642.4 L196.5,648.6 L197.8,658.4 L199.1,667.7 L200.4,677.4 L201.7,689.7 L203.0,701.8 L204.3,711.6 L205.6,716.6 L206.9,719.5 L208.2,727.6 L209.5,734.4 L210.8,739.0 L212.1,741.9 L213.4,741.7 L214.7,744.0 L216.0,746.9 L217.3,747.6 L218.6,747.0 L219.9,750.3 L221.2,752.0 L222.5,750.2 L223.8,749.8 L225.1,750.3 L226.4,751.4 L227.7,749.0 L229.0,747.7 L230.3,745.8 L231.6,745.7 L232.9,743.9 L234.2,744.5 L235.5,746.2 L236.8,746.4 L238.1,748.0 L239.4,748.7 L240.7,745.9 L242.0,743.5 L243.3,744.1 L244.6,740.9 L245.9,740.6 L247.2,739.9 L248.5,740.3 L249.8,735.8 L251.1,730.4 L252.4,732.5 L253.7,731.5 L255.0,731.2 L256.3,729.1 L257.6,726.8 L258.9,722.1 L260.2,721.0 L261.5,716.8 L262.8,710.4 L264.1,706.0 L265.4,716.1 L266.7,713.2 L268.0,708.1 L269.3,707.6 L270.6,704.8 L271.9,703.5 L273.2,707.0 L274.5,708.5 L275.8,712.1 L277.1,711.9 L278.4,713.2 L279.7,711.6 L281.0,721.2 L282.3,730.4 L283.6,731.0 L284.9,732.7 L286.2,734.9 L287.5,738.0 L288.8,740.8 L290.1,743.2 L291.4,745.4 L292.7,752.0 L294.0,750.7 L295.3,749.1 L296.6,748.8 L297.9,752.0 L299.2,752.3 L300.5,750.9 L301.8,749.3 L303.1,746.5 L304.4,744.7 L305.7,742.2 L307.0,741.3 L308.3,734.3 L309.6,730.8 L310.9,725.6 L312.2,724.3 L313.5,721.7 L314.8,710.4 L316.1,703.7 L317.4,694.1 L318.7,683.2 L320.0,672.9 L321.3,667.3 L322.6,658.2 L323.9,649.3 L325.2,646.1 L326.5,641.2 L327.8,633.9 L329.1,641.8 L330.4,648.5 L331.7,649.0 L333.0,650.3 L334.3,666.3 L335.6,675.7 L336.9,673.3 L338.2,668.7 L339.5,659.9 L340.8,647.6 L342.1,632.3 L343.4,626.2 L344.7,616.2 L346.0,614.1 L347.3,613.3 L348.6,612.5 L349.9,611.1 L351.2,624.4 L352.5,637.6 L353.8,649.5 L355.1,662.4 L356.4,678.5 L357.7,700.0 L359.0,717.0 L360.3,735.0 L361.6,751.4 L362.9,761.6 L364.2,772.1 L365.5,776.8 L366.8,784.3 L368.1,788.7 L369.4,793.2 L370.7,797.6 L372.0,799.6 L373.3,802.1 L374.6,804.2 L375.9,808.4 L377.2,807.9 L378.5,810.7 L379.8,815.7 L381.1,814.1 L382.4,812.7 L383.7,812.5 L385.0,810.0 L386.3,809.9 L387.6,807.6 L388.9,807.7 L390.2,803.3 L391.5,802.8 L392.8,801.5 L394.1,800.5 L395.4,797.5 L396.7,796.6 L398.0,796.2 L399.3,793.1 L400.6,791.1 L401.9,789.3 L403.2,790.7 L404.5,788.1 L405.8,786.0 L407.1,783.4 L408.4,779.1 L409.7,776.3 L411.0,773.3 L412.3,770.4 L413.6,769.3 L414.9,763.4 L416.2,758.8 L417.5,757.1 L418.8,752.0 L420.1,746.2 L421.4,745.2 L422.7,744.5 L424.0,743.7 L425.3,743.5 L426.6,741.7 L427.9,743.6 L429.2,747.9 L430.5,750.1 L431.8,753.0 L433.1,754.8 L434.4,759.6 L435.7,764.7 L437.0,767.9 L438.3,772.7 L439.6,776.4 L440.9,781.2 L442.2,783.8 L443.5,788.2 L444.8,793.2 L446.1,796.0 L447.4,800.3 L448.7,806.6 L450.0,809.7 L451.3,816.7 L452.6,813.3 L453.9,813.8 L455.2,811.0 L456.5,808.2 L457.8,807.9 L459.1,806.8 L460.4,804.6 L461.7,801.9 L463.0,797.3 L464.3,795.5 L465.6,789.3 L466.9,787.6 L468.2,779.9 L469.5,773.6 L470.8,764.5 L472.1,756.9 L473.4,750.6 L474.7,743.8 L476.0,733.4 L477.3,725.1 L478.6,716.8 L479.9,711.8 L481.2,707.4 L482.5,703.9 L483.8,710.9 L485.1,718.1 L486.4,725.5 L487.7,735.8 L489.0,753.9 L490.3,769.6 L491.6,785.8 L492.9,804.0 L494.2,823.0 L495.5,837.8 L496.8,850.0 L498.1,859.7 L499.4,865.3 L500.7,875.4 L502.0,880.3 L503.3,882.9 L504.6,885.8 L505.9,886.4 L507.2,890.7 L508.5,891.8 L509.8,895.0 L511.1,896.5 L512.4,895.4 L513.7,898.9 L515.0,900.0 L516.3,899.2 L517.6,901.4 L518.9,901.2 L520.2,902.9 L521.5,904.3 L522.8,903.7 L524.1,904.9 L525.4,904.2 L526.7,907.2 L528.0,907.1 L529.3,908.5 L530.6,906.5 L531.9,908.8 L533.2,906.9 L534.5,908.5 L535.8,907.6 L537.1,909.9 L538.4,907.6 L539.7,908.9 L541.0,909.0 L542.3,908.4 L543.6,906.5 L544.9,907.7 L546.2,907.9 L547.5,905.1 L548.8,906.1 L550.1,903.5 L551.4,902.5 L552.7,902.3 L554.0,903.2 L555.3,901.8 L556.6,901.9 L557.9,900.9 L559.2,903.2 L560.5,902.8 L561.8,903.9 L563.1,905.9 L564.4,906.4 L565.7,907.0 L567.0,909.2 L568.3,911.4 L569.6,913.2 L570.9,914.4 L572.2,914.2 L573.5,914.7 L574.8,918.5 L576.1,918.1 L577.4,919.1 L578.7,921.9 L580.0,922.4 L581.3,924.9 L582.6,924.2 L583.9,925.2 L585.2,922.9 L586.5,925.6 L587.8,924.5 L589.1,925.1 L590.4,924.1 L591.7,924.1 L593.0,924.4 L594.3,924.2 L595.6,926.9 L596.9,924.4 L598.2,925.0 L599.5,926.4 L600.8,925.2 L602.1,925.3 L603.4,925.5 L604.7,925.5 L606.0,924.9 L607.3,927.3 L608.6,927.1 L609.9,926.0 L611.2,928.0 L612.5,927.0 L613.8,925.9 L615.1,928.4 L616.4,926.1 L617.7,928.0 L619.0,928.1 L620.3,925.6 L621.6,928.3 L622.9,927.0 L624.2,927.4 L625.5,928.8 L626.8,927.3 L628.1,926.7 L629.4,926.2 L630.7,929.2" fill="none" stroke="#1C1C1C" stroke-width="2.4" stroke-linejoin="round"/>
<path d="M1167.0,314.0 L1168.4,314.2 L1170.3,314.5 L1172.4,316.1 L1173.8,316.8 L1175.3,318.4 L1176.8,319.9 L1178.6,320.7 L1180.2,320.6 L1181.9,319.1 L1183.8,318.3 L1185.8,317.1 L1187.9,315.6 L1189.5,315.4 L1191.1,315.7 L1192.8,316.7 L1194.6,316.8 L1196.4,317.5 L1198.3,317.9 L1200.3,317.7 L1202.1,317.5 L1204.1,317.0 L1206.2,316.9 L1208.2,317.6 L1210.3,317.3 L1212.3,317.1 L1214.1,316.5 L1215.8,316.1 L1218.1,314.8 L1220.0,313.4 L1221.7,310.9 L1223.3,309.5 L1225.1,308.0 L1227.0,307.7 L1228.8,307.2 L1230.7,306.2 L1232.5,305.5 L1234.4,304.8 L1236.3,303.6 L1238.1,302.4 L1240.0,300.3 L1241.8,299.0 L1243.7,297.1 L1245.5,296.3 L1247.2,295.1 L1248.9,294.8 L1250.8,293.8 L1253.0,293.1 L1254.7,292.0 L1256.6,289.9 L1258.6,287.7 L1260.7,286.9 L1262.8,285.6 L1264.9,284.5 L1266.9,284.9 L1268.7,286.6 L1270.4,288.1 L1272.2,290.8 L1274.0,294.3 L1275.8,297.5 L1277.5,300.6 L1279.2,303.4 L1280.9,305.1 L1282.8,306.7 L1284.6,307.7 L1286.4,308.5 L1288.2,309.4 L1290.0,310.0 L1291.6,310.9 L1293.2,311.4 L1295.2,312.3 L1296.9,313.0 L1298.6,314.0 L1300.4,314.7 L1302.5,316.2 L1304.1,317.0 L1305.8,318.2 L1307.6,319.1 L1309.5,320.6 L1311.4,322.0 L1313.2,323.2 L1314.9,323.5 L1316.5,323.5 L1318.7,323.1 L1320.6,320.7 L1322.4,318.6 L1324.1,316.3 L1325.8,316.0 L1327.6,316.4 L1329.1,318.5 L1330.8,321.1 L1333.5,322.2 L1334.9,321.8 L1336.5,322.3 L1338.3,321.8 L1340.2,322.5 L1342.1,322.0 L1344.1,322.2 L1346.2,321.3 L1348.2,321.6 L1350.2,320.6 L1352.1,321.0 L1353.9,320.1 L1355.7,319.4 L1357.5,319.7 L1359.2,319.1 L1361.0,317.8 L1362.8,317.7 L1364.7,317.0 L1366.6,316.2 L1368.6,316.1 L1370.7,316.4 L1372.5,315.6 L1374.4,315.9 L1376.4,315.9 L1378.5,315.9 L1380.7,315.7 L1382.9,316.1 L1385.1,315.6 L1387.2,315.8 L1389.2,315.8 L1391.0,315.5 L1392.7,315.9 L1394.2,316.2 L1395.5,316.0 L1398.1,315.5 L1398.4,315.3 L1400.0,314.4 L1401.4,313.2 L1403.1,312.3 L1405.0,311.7 L1407.1,309.8 L1409.2,308.4 L1411.4,307.2 L1413.5,306.3 L1415.5,304.6 L1417.4,304.2 L1419.4,303.1 L1421.3,302.2 L1423.2,301.3 L1425.2,300.3 L1427.1,299.1 L1429.1,298.0 L1431.0,297.4 L1432.9,296.1 L1434.7,295.4 L1436.5,295.2 L1438.4,294.3 L1440.2,293.2 L1442.2,292.7 L1444.3,292.1 L1446.5,290.9 L1448.3,290.7 L1450.3,289.6 L1452.4,289.0 L1454.6,288.6 L1456.8,287.8 L1459.0,287.6 L1461.2,286.6 L1463.2,285.7 L1465.1,285.4 L1466.8,284.6 L1468.2,283.7 L1470.8,280.2 L1472.2,277.3 L1473.1,273.8 L1474.4,271.2 L1476.2,268.4 L1478.2,265.9 L1480.1,263.9 L1482.1,258.2 L1484.0,250.8 L1485.9,242.5 L1487.8,231.9 L1489.9,221.8 L1491.7,212.9 L1493.5,203.5 L1495.4,194.6 L1497.3,185.2 L1499.2,174.4 L1501.1,164.6 L1502.9,153.0 L1504.8,141.7 L1506.6,130.1 L1508.5,119.5 L1510.4,107.9 L1512.4,96.1 L1514.3,84.4 L1516.1,74.9 L1517.8,66.2 L1519.6,59.6 L1521.1,54.7 L1522.5,51.9 L1524.0,49.5 L1525.6,45.9 L1527.1,43.2 L1528.7,41.1 L1530.2,40.0 L1531.7,40.8 L1533.3,42.6 L1534.8,45.2 L1536.3,49.7 L1537.8,53.3 L1539.2,57.9 L1540.7,63.7 L1542.5,72.8 L1544.2,82.8 L1546.0,96.3 L1547.9,110.4 L1549.9,124.5 L1551.8,137.4 L1553.7,149.2 L1555.5,160.3 L1557.4,171.8 L1559.2,182.4 L1561.1,193.1 L1562.9,204.9 L1564.7,216.8 L1566.5,228.3 L1568.3,238.5 L1570.4,249.4 L1572.0,256.4 L1573.8,263.1 L1575.6,269.5 L1577.4,275.9 L1579.3,281.8 L1581.1,287.4 L1582.8,292.4 L1584.7,298.5 L1586.4,303.7 L1588.2,308.5 L1589.9,312.0 L1591.7,315.5 L1593.7,318.8 L1595.6,320.9 L1597.5,323.5 L1599.6,324.6 L1601.7,326.3 L1603.8,327.6 L1605.7,328.1 L1607.6,328.4 L1609.6,328.3 L1611.6,327.0 L1613.4,325.6 L1615.2,323.8 L1616.9,322.2 L1618.5,321.7 L1620.5,323.5 L1622.2,324.8 L1623.9,327.8 L1626.2,330.3 L1627.7,331.2 L1629.3,332.1 L1631.1,332.4 L1633.0,333.3 L1634.9,334.7 L1636.8,335.0 L1638.6,335.6 L1640.2,335.9 L1642.3,336.1 L1644.4,335.4 L1646.5,334.2 L1648.3,333.1 L1649.9,332.1 L1651.0,330.7" fill="none" stroke="#9B1BF2" stroke-width="3.0" stroke-linejoin="round"/>
<path d="M1167.0,457.5 L1168.0,457.8 L1170.8,458.4 L1172.1,458.8 L1173.8,458.3 L1175.6,458.4 L1177.7,458.6 L1179.7,459.3 L1181.6,458.9 L1183.4,459.8 L1184.8,460.2 L1186.8,461.3 L1188.0,463.9 L1189.2,465.7 L1191.0,466.1 L1192.5,465.9 L1194.2,463.6 L1196.0,461.6 L1198.0,460.5 L1199.9,458.0 L1201.7,456.1 L1203.4,455.2 L1205.4,454.8 L1207.3,455.6 L1209.0,455.5 L1210.8,456.2 L1212.7,457.0 L1214.4,457.2 L1216.2,458.0 L1218.0,458.2 L1219.8,457.8 L1221.7,457.4 L1223.5,457.2 L1225.3,455.9 L1227.2,452.9 L1229.0,451.2 L1230.9,448.6 L1232.7,445.7 L1234.4,442.7 L1236.4,440.4 L1238.2,437.4 L1240.1,433.9 L1241.9,431.2 L1243.7,427.2 L1245.5,422.8 L1247.3,418.1 L1249.1,413.0 L1250.9,408.7 L1253.0,405.9 L1254.7,405.0 L1256.5,404.6 L1258.5,404.7 L1260.5,405.0 L1262.3,405.3 L1264.0,405.3 L1265.4,405.5 L1267.2,405.2 L1268.1,404.5 L1270.0,407.5 L1271.3,409.6 L1272.9,413.4 L1274.6,418.6 L1276.5,423.0 L1278.5,428.0 L1280.4,432.0 L1282.3,436.5 L1284.0,440.3 L1285.8,442.9 L1287.5,445.6 L1289.2,446.6 L1290.9,448.4 L1292.6,450.1 L1294.4,451.0 L1296.3,452.6 L1298.1,453.4 L1300.1,453.8 L1302.1,454.5 L1304.1,456.0 L1306.2,455.7 L1308.2,456.5 L1310.1,457.4 L1311.8,458.7 L1313.9,460.6 L1315.9,462.4 L1317.8,464.7 L1319.6,467.1 L1321.2,468.2 L1322.7,469.2 L1324.3,468.9 L1325.4,467.0 L1326.7,464.2 L1328.9,462.7 L1330.3,462.4 L1331.9,462.8 L1333.7,462.6 L1335.6,462.8 L1337.6,462.6 L1339.7,462.2 L1341.8,462.8 L1343.9,463.3 L1345.9,462.9 L1347.7,463.0 L1349.5,464.0 L1351.4,464.7 L1353.2,465.4 L1355.1,466.1 L1357.0,467.0 L1358.9,468.5 L1360.8,468.3 L1362.6,469.3 L1364.5,469.0 L1366.4,468.9 L1368.2,469.2 L1370.1,468.2 L1371.9,467.5 L1373.8,467.1 L1375.7,466.6 L1377.5,465.6 L1379.4,465.1 L1381.2,463.8 L1383.1,463.1 L1385.0,462.5 L1386.9,461.4 L1388.8,460.8 L1390.8,459.6 L1392.7,458.3 L1394.6,457.3 L1396.5,457.0 L1398.3,456.0 L1400.0,455.2 L1401.7,454.0 L1403.9,452.5 L1406.0,450.7 L1408.0,450.0 L1409.9,447.9 L1411.8,446.8 L1413.6,445.1 L1415.5,444.0 L1417.4,442.4 L1419.4,440.8 L1421.3,439.4 L1423.2,437.6 L1425.0,435.9 L1426.6,435.5 L1427.9,435.0 L1429.8,437.3 L1430.8,440.7 L1432.5,442.6 L1433.9,441.2 L1435.6,437.4 L1437.5,433.6 L1439.4,430.4 L1441.4,427.0 L1443.4,425.4 L1445.1,425.9 L1446.9,426.4 L1448.8,427.9 L1450.6,429.9 L1452.4,432.0 L1454.2,434.0 L1455.8,434.7 L1457.8,435.8 L1459.7,435.5 L1461.4,435.6 L1463.2,435.1 L1465.1,433.2 L1466.9,430.5 L1468.8,427.2 L1470.7,422.3 L1472.6,417.9 L1474.3,413.9 L1475.9,411.6 L1477.7,409.8 L1479.1,410.2 L1480.4,409.9 L1482.1,408.0 L1483.8,405.0 L1485.7,401.0 L1487.6,395.4 L1489.6,390.2 L1491.4,383.8 L1493.5,375.3 L1495.5,366.4 L1497.4,356.1 L1499.2,346.6 L1501.0,336.7 L1502.7,325.8 L1504.4,315.0 L1506.0,304.6 L1507.6,295.5 L1509.1,285.9 L1510.5,277.0 L1512.0,268.0 L1514.0,255.1 L1515.9,241.5 L1517.8,230.7 L1519.5,224.8 L1521.2,220.8 L1523.0,217.9 L1524.5,215.3 L1526.2,212.3 L1527.8,209.9 L1529.5,209.6 L1531.1,211.4 L1532.8,213.8 L1534.4,218.0 L1536.0,221.5 L1537.6,226.3 L1539.1,230.0 L1540.7,235.0 L1542.5,243.6 L1544.3,252.7 L1546.3,263.7 L1548.3,276.4 L1550.2,288.8 L1551.8,299.4 L1553.4,309.6 L1554.5,317.7 L1556.0,329.8 L1557.4,340.6 L1558.9,354.2 L1560.6,368.4 L1562.4,381.7 L1564.2,392.6 L1566.0,401.5 L1567.8,409.9 L1569.7,416.1 L1571.6,421.9 L1573.5,427.1 L1575.3,431.5 L1577.1,434.7 L1578.9,437.1 L1580.7,439.5 L1582.8,442.3 L1584.4,445.1 L1586.0,448.3 L1587.7,452.6 L1589.5,455.3 L1591.3,459.1 L1593.2,462.3 L1595.2,464.0 L1597.0,465.5 L1599.0,466.5 L1601.1,467.6 L1603.1,467.7 L1605.2,468.1 L1607.2,467.6 L1609.0,468.6 L1610.7,468.9 L1612.9,470.1 L1614.7,472.1 L1616.4,473.6 L1618.0,474.9 L1620.0,475.3 L1621.6,475.3 L1623.4,474.2 L1625.3,473.4 L1627.1,472.6 L1629.0,471.3 L1630.8,470.3 L1632.4,470.5 L1634.5,471.1 L1636.3,471.9 L1638.1,472.3 L1639.9,473.8 L1641.7,474.8 L1643.7,476.1 L1645.9,478.1 L1647.9,478.9 L1649.7,480.0 L1651.0,480.8" fill="none" stroke="#0E8A2A" stroke-width="3.0" stroke-linejoin="round"/>
<path d="M1167.0,591.6 L1167.4,591.9 L1169.3,591.5 L1170.6,591.6 L1172.2,590.4 L1174.1,589.7 L1176.1,588.1 L1178.1,587.8 L1180.0,587.6 L1181.7,587.1 L1183.8,588.3 L1185.6,589.9 L1187.4,591.2 L1189.2,592.3 L1191.0,593.6 L1192.8,592.0 L1194.6,589.9 L1196.4,588.4 L1198.2,586.6 L1200.3,585.8 L1201.9,586.5 L1203.5,587.0 L1205.2,588.6 L1207.0,590.5 L1208.8,592.9 L1210.7,593.0 L1212.7,593.0 L1214.5,591.8 L1216.4,590.1 L1218.3,587.8 L1220.3,585.5 L1222.3,582.6 L1224.3,580.1 L1226.2,578.4 L1228.2,575.9 L1230.2,575.3 L1232.2,574.5 L1234.3,573.8 L1236.3,573.5 L1238.3,573.3 L1240.3,572.5 L1242.1,571.2 L1243.7,569.8 L1246.0,566.4 L1247.9,562.4 L1249.6,558.3 L1251.2,552.9 L1253.0,547.9 L1254.9,543.4 L1256.9,538.6 L1258.9,533.1 L1260.7,528.8 L1262.3,524.7 L1263.9,521.5 L1265.1,521.0 L1266.9,519.9 L1268.4,520.0 L1270.1,520.0 L1272.1,519.8 L1274.1,520.0 L1276.0,520.5 L1277.8,522.5 L1279.8,523.8 L1281.6,526.0 L1283.5,528.0 L1285.3,531.4 L1287.1,534.8 L1288.8,538.8 L1290.5,543.8 L1292.2,549.3 L1294.1,554.3 L1296.3,559.1 L1298.0,562.0 L1299.8,563.8 L1301.9,566.7 L1303.9,568.5 L1306.0,570.6 L1308.1,572.8 L1310.0,574.5 L1311.8,575.8 L1313.9,578.5 L1315.8,580.7 L1317.5,583.2 L1319.2,586.2 L1320.9,587.6 L1322.7,589.1 L1324.5,589.1 L1326.4,588.0 L1328.2,587.5 L1330.0,586.4 L1331.8,585.3 L1333.5,585.1 L1335.4,587.2 L1337.2,590.3 L1338.9,594.0 L1340.8,596.4 L1342.8,598.1 L1344.4,597.6 L1346.0,594.9 L1347.7,592.9 L1349.5,589.9 L1351.3,587.1 L1353.2,585.5 L1355.2,583.9 L1357.0,584.4 L1358.8,584.3 L1360.6,586.4 L1362.6,587.1 L1364.5,588.5 L1366.5,590.7 L1368.6,591.5 L1370.7,591.9 L1372.5,591.8 L1374.3,590.9 L1376.3,589.9 L1378.3,589.2 L1380.3,588.8 L1382.3,587.8 L1384.2,586.0 L1386.0,585.3 L1387.7,584.5 L1389.3,584.4 L1391.5,583.2 L1393.3,584.1 L1394.8,583.9 L1396.4,584.4 L1398.0,583.9 L1400.0,583.1 L1401.7,582.8 L1403.5,581.2 L1405.5,580.1 L1407.5,578.2 L1409.5,576.2 L1411.5,573.5 L1413.5,571.9 L1415.5,570.1 L1417.5,567.3 L1419.4,564.3 L1421.4,561.6 L1423.4,559.6 L1425.4,556.7 L1427.3,553.1 L1429.2,550.4 L1431.0,548.1 L1432.9,544.8 L1434.8,541.4 L1436.5,539.0 L1438.2,535.6 L1439.9,532.5 L1441.7,529.5 L1443.4,527.8 L1445.1,526.2 L1446.7,524.1 L1448.3,522.8 L1449.9,522.4 L1451.7,521.7 L1453.6,520.5 L1455.8,520.0 L1457.4,519.9 L1459.1,519.6 L1461.0,519.3 L1463.0,519.5 L1465.0,519.6 L1467.1,519.8 L1469.1,519.8 L1471.0,520.2 L1472.8,520.1 L1474.4,520.6 L1475.9,519.8 L1478.5,519.6 L1480.5,518.4 L1482.1,516.4 L1483.6,514.4 L1485.2,512.4 L1487.2,508.9 L1489.1,505.0 L1491.0,499.4 L1493.0,492.1 L1494.8,483.8 L1496.6,473.0 L1498.5,461.3 L1500.4,450.5 L1502.3,439.2 L1504.2,430.2 L1506.1,420.6 L1508.0,410.8 L1509.8,402.1 L1511.6,392.6 L1513.6,381.3 L1515.5,368.6 L1517.4,356.5 L1519.3,347.0 L1520.9,338.6 L1522.6,330.0 L1524.3,322.7 L1526.0,317.4 L1527.7,317.5 L1529.4,321.1 L1531.1,329.9 L1532.8,340.8 L1534.5,352.1 L1536.3,361.5 L1538.1,370.6 L1540.0,377.9 L1541.8,385.4 L1543.7,393.9 L1545.6,402.7 L1547.4,411.7 L1549.2,421.1 L1551.0,430.4 L1552.8,441.4 L1554.9,454.7 L1556.5,466.5 L1558.2,480.1 L1560.0,494.6 L1561.8,509.2 L1563.7,523.1 L1565.5,535.4 L1567.3,544.9 L1569.1,551.0 L1570.8,556.2 L1572.6,559.0 L1574.4,560.8 L1576.2,562.9 L1577.9,564.7 L1579.7,566.3 L1581.4,569.2 L1583.2,571.5 L1584.9,573.7 L1586.6,575.9 L1588.3,577.8 L1590.2,579.3 L1592.1,582.1 L1593.9,584.1 L1595.9,586.6 L1598.0,589.5 L1600.0,591.5 L1602.1,594.4 L1604.1,596.8 L1605.9,597.6 L1607.6,599.4 L1609.8,599.2 L1611.6,597.4 L1613.3,595.5 L1614.9,593.0 L1616.9,592.5 L1618.5,593.9 L1620.3,594.8 L1622.2,596.0 L1624.0,597.8 L1625.9,599.8 L1627.7,601.3 L1629.3,602.6 L1631.3,601.8 L1633.1,601.5 L1634.8,600.1 L1636.6,599.3 L1638.6,599.4 L1640.3,599.1 L1642.3,600.6 L1644.3,601.5 L1646.4,602.1 L1648.3,603.1 L1649.9,604.6 L1651.0,605.4" fill="none" stroke="#9A1A1E" stroke-width="2.6" stroke-linejoin="round"/>
<path d="M1167.0,735.6 L1166.9,735.7 L1167.7,736.1 L1169.1,736.0 L1171.1,737.1 L1173.3,737.8 L1175.5,737.7 L1177.2,736.1 L1178.8,735.0 L1180.6,733.4 L1182.5,731.9 L1184.8,731.7 L1186.4,731.3 L1188.2,731.5 L1190.1,732.5 L1192.1,732.9 L1194.1,733.3 L1196.2,734.1 L1198.2,735.1 L1200.3,735.4 L1202.2,736.6 L1204.1,737.5 L1206.1,738.1 L1208.1,739.5 L1210.1,740.4 L1212.0,740.8 L1213.9,741.6 L1215.7,741.5 L1217.3,741.6 L1219.5,742.0 L1221.3,740.2 L1223.0,738.6 L1224.7,737.8 L1226.4,736.5 L1228.2,735.4 L1229.8,735.9 L1231.5,736.7 L1233.1,737.9 L1234.8,738.8 L1236.6,740.6 L1238.5,741.3 L1240.6,741.9 L1242.2,741.7 L1244.0,741.4 L1245.9,741.0 L1247.9,741.4 L1249.9,740.7 L1251.9,740.0 L1253.9,739.1 L1255.8,738.7 L1257.6,738.5 L1259.2,738.7 L1261.4,739.0 L1263.4,740.2 L1265.3,741.3 L1267.0,742.6 L1268.7,744.2 L1270.2,744.8 L1271.6,745.1 L1273.2,743.8 L1274.1,741.6 L1275.3,739.3 L1277.8,737.1 L1279.2,736.6 L1280.7,736.9 L1282.4,736.7 L1284.3,737.2 L1286.2,736.6 L1288.3,737.5 L1290.4,736.8 L1292.6,737.5 L1294.9,737.4 L1297.1,737.3 L1299.4,737.7 L1301.2,737.3 L1303.2,736.5 L1305.2,736.4 L1307.4,736.2 L1309.5,735.2 L1311.7,734.8 L1313.9,734.8 L1316.1,734.5 L1318.2,733.8 L1320.3,733.4 L1322.2,733.2 L1324.1,732.7 L1325.8,733.1 L1327.3,733.2 L1329.9,732.9 L1332.0,733.1 L1333.7,734.4 L1335.2,735.8 L1336.6,736.2 L1338.1,736.7 L1339.7,737.0 L1341.4,737.4 L1343.1,736.8 L1344.7,735.8 L1346.4,735.4 L1348.1,734.7 L1350.0,734.0 L1352.1,733.0 L1353.7,732.1 L1355.4,731.9 L1357.2,731.5 L1359.1,730.9 L1361.0,730.1 L1363.0,729.4 L1364.9,728.6 L1366.9,728.3 L1368.8,727.4 L1370.7,726.7 L1372.6,725.5 L1374.5,724.6 L1376.5,724.1 L1378.5,723.6 L1380.5,722.8 L1382.4,721.6 L1384.3,720.6 L1386.1,720.3 L1387.8,718.2 L1389.3,717.6 L1391.5,714.7 L1393.5,711.1 L1395.1,707.9 L1396.7,703.8 L1398.3,699.6 L1400.0,697.3 L1401.8,694.3 L1403.5,692.8 L1405.3,690.8 L1407.1,688.2 L1408.8,685.6 L1410.6,682.2 L1412.4,678.5 L1414.2,673.0 L1415.9,666.5 L1417.7,660.4 L1419.5,655.2 L1421.3,651.1 L1423.1,647.4 L1424.8,644.4 L1426.6,641.8 L1428.4,639.4 L1430.1,638.0 L1431.9,636.2 L1433.7,636.1 L1435.4,637.6 L1437.2,638.6 L1439.0,640.0 L1440.7,641.6 L1442.5,643.6 L1444.3,645.7 L1446.1,648.3 L1447.9,650.9 L1449.7,653.3 L1451.4,655.6 L1453.1,657.6 L1455.0,659.1 L1456.9,660.2 L1458.7,661.3 L1460.4,661.8 L1462.0,663.5 L1463.7,665.4 L1465.1,667.8 L1466.7,670.0 L1469.1,670.0 L1470.7,669.3 L1472.7,668.4 L1474.8,667.5 L1477.0,666.0 L1479.3,664.1 L1481.4,662.1 L1483.4,660.5 L1485.0,657.4 L1487.4,652.9 L1489.1,647.3 L1490.5,640.7 L1492.1,633.3 L1493.9,623.0 L1495.7,611.4 L1497.5,599.9 L1499.2,590.5 L1501.3,578.2 L1503.3,567.8 L1505.0,560.5 L1506.6,555.8 L1508.5,548.4 L1510.1,536.5 L1512.0,522.2 L1514.0,505.2 L1516.0,489.7 L1517.8,473.4 L1519.5,454.8 L1521.3,439.3 L1523.3,430.1 L1525.2,430.3 L1527.2,433.9 L1529.3,441.8 L1531.4,449.8 L1533.2,457.7 L1535.1,467.7 L1536.9,477.7 L1538.5,489.1 L1540.0,499.8 L1542.0,516.0 L1543.8,532.6 L1545.6,548.0 L1547.4,562.1 L1549.2,576.3 L1551.0,590.5 L1552.5,604.2 L1553.9,617.9 L1555.9,633.0 L1557.3,641.2 L1558.9,651.0 L1560.6,659.8 L1562.5,669.2 L1564.5,677.9 L1566.5,686.0 L1568.1,691.6 L1569.7,696.8 L1571.4,701.3 L1573.2,706.1 L1575.0,710.8 L1576.8,714.1 L1578.7,717.9 L1580.7,721.7 L1582.5,724.9 L1584.5,727.5 L1586.5,729.4 L1588.5,731.1 L1590.6,733.7 L1592.6,735.6 L1594.6,737.0 L1596.6,738.1 L1598.4,739.3 L1600.4,740.8 L1602.3,742.1 L1604.1,743.1 L1605.9,743.3 L1607.6,743.8 L1609.3,744.0 L1610.9,744.5 L1612.5,744.7 L1614.5,744.5 L1616.3,744.4 L1618.1,744.4 L1619.8,743.2 L1621.5,742.8 L1623.2,742.8 L1624.9,743.6 L1626.5,743.6 L1628.1,744.8 L1629.8,745.6 L1631.7,746.2 L1633.8,746.8 L1635.5,746.6 L1637.5,747.3 L1639.7,748.1 L1641.9,748.0 L1644.2,748.8 L1646.3,749.5 L1648.2,749.9 L1649.8,749.6 L1651.0,749.6" fill="none" stroke="#1E1E8A" stroke-width="2.8" stroke-linejoin="round"/>
<path d="M1167.0,924.0 L1167.1,924.3 L1168.0,924.7 L1169.1,924.6 L1170.7,924.3 L1172.4,923.7 L1174.2,924.8 L1176.1,926.0 L1178.2,928.4 L1180.2,930.5 L1182.1,932.3 L1183.6,931.7 L1184.9,930.6 L1186.4,929.6 L1188.3,929.1 L1189.8,929.2 L1191.6,929.0 L1193.5,929.6 L1195.5,930.5 L1197.4,931.4 L1199.2,932.2 L1200.7,932.3 L1202.7,931.8 L1204.2,930.2 L1205.6,929.0 L1206.9,928.2 L1208.6,929.5 L1210.1,931.5 L1212.2,932.7 L1213.8,931.9 L1215.6,930.1 L1217.6,928.0 L1219.7,926.5 L1222.0,925.8 L1223.7,927.1 L1225.6,928.4 L1227.6,930.4 L1229.6,932.5 L1231.6,933.8 L1233.5,935.0 L1235.3,935.7 L1237.2,935.6 L1239.0,933.8 L1240.7,931.2 L1242.4,929.2 L1244.1,926.9 L1245.9,926.5 L1247.7,925.8 L1249.4,927.4 L1251.2,928.9 L1253.1,929.8 L1255.1,931.1 L1257.4,931.4 L1259.1,931.7 L1261.0,931.6 L1263.0,931.5 L1265.1,931.0 L1267.3,930.8 L1269.4,930.3 L1271.4,930.3 L1273.3,929.9 L1275.1,929.4 L1277.1,929.8 L1279.0,928.8 L1280.8,928.7 L1282.5,928.7 L1284.1,928.3 L1285.8,928.3 L1287.5,928.0 L1289.3,928.6 L1291.1,928.3 L1292.9,929.7 L1294.7,930.0 L1296.5,930.6 L1298.2,931.5 L1299.9,931.6 L1301.8,930.9 L1303.6,930.3 L1305.3,929.3 L1307.0,929.0 L1308.7,927.8 L1310.5,926.8 L1312.3,926.6 L1314.0,925.8 L1315.7,925.7 L1317.5,925.7 L1319.3,926.1 L1321.2,926.0 L1322.9,925.7 L1324.6,925.9 L1326.4,925.6 L1328.2,926.2 L1330.0,926.7 L1331.8,926.2 L1333.6,927.4 L1335.4,928.1 L1337.3,928.4 L1339.3,929.9 L1341.2,931.1 L1343.0,931.1 L1344.6,932.0 L1346.0,932.4 L1348.3,931.6 L1349.7,929.0 L1351.3,927.3 L1352.8,925.5 L1354.3,923.7 L1355.9,921.9 L1357.5,921.2 L1359.0,921.2 L1360.4,922.3 L1362.0,923.8 L1363.7,925.1 L1365.3,926.3 L1367.1,927.8 L1369.0,929.0 L1370.8,929.7 L1372.5,930.4 L1374.4,930.2 L1376.2,927.9 L1377.9,926.8 L1379.6,925.5 L1381.3,925.2 L1383.0,925.6 L1384.8,927.1 L1386.7,927.5 L1388.4,926.6 L1390.2,926.5 L1392.1,926.0 L1393.9,925.2 L1395.6,924.0 L1397.5,922.9 L1399.4,921.9 L1401.1,920.5 L1402.7,920.1 L1404.5,921.2 L1406.2,924.5 L1408.0,925.5 L1409.7,923.9 L1411.5,921.7 L1413.3,918.4 L1415.0,916.4 L1416.9,914.5 L1418.7,913.6 L1420.4,912.9 L1422.1,912.9 L1423.8,914.5 L1425.7,914.4 L1427.3,914.3 L1429.1,913.2 L1431.0,911.5 L1432.8,908.8 L1434.6,906.3 L1436.5,902.8 L1438.3,899.7 L1440.0,896.4 L1441.4,894.9 L1442.6,894.0 L1444.0,893.8 L1446.0,891.8 L1447.4,890.8 L1449.0,889.5 L1450.7,887.6 L1452.6,886.2 L1454.5,884.0 L1456.5,882.2 L1458.4,879.6 L1460.2,877.5 L1462.0,874.8 L1463.8,872.8 L1465.7,870.8 L1467.5,868.1 L1469.3,864.9 L1471.1,860.8 L1472.8,857.8 L1474.4,852.8 L1476.4,846.0 L1478.2,838.0 L1479.9,829.8 L1481.6,820.0 L1483.3,809.8 L1485.0,799.6 L1486.8,787.7 L1488.5,775.2 L1490.3,761.9 L1492.1,748.8 L1493.8,735.2 L1495.6,721.4 L1497.4,708.2 L1499.4,693.1 L1501.3,679.5 L1503.1,665.1 L1504.8,653.4 L1506.3,643.7 L1508.4,634.4 L1510.0,630.9 L1511.6,625.1 L1513.0,616.8 L1514.5,605.6 L1516.1,594.3 L1517.8,585.3 L1519.3,579.0 L1521.0,572.6 L1522.8,567.3 L1524.6,563.1 L1526.4,561.6 L1528.4,562.6 L1530.4,566.7 L1532.5,571.0 L1534.5,577.5 L1536.3,585.4 L1538.0,595.4 L1539.4,608.7 L1540.8,623.2 L1542.5,640.6 L1544.2,658.3 L1546.1,677.9 L1548.1,698.2 L1550.2,719.6 L1552.3,739.6 L1554.0,754.8 L1555.8,770.4 L1557.5,786.2 L1559.3,800.3 L1561.1,814.5 L1562.9,827.6 L1564.7,840.5 L1566.5,852.3 L1568.3,863.4 L1570.0,873.6 L1571.8,883.0 L1573.6,892.0 L1575.3,898.7 L1577.0,904.6 L1578.7,908.6 L1580.4,913.5 L1582.2,916.8 L1584.2,920.2 L1585.8,922.9 L1587.4,924.3 L1589.1,926.7 L1590.9,928.1 L1592.7,929.3 L1594.5,931.5 L1596.4,932.2 L1598.4,934.4 L1600.2,935.4 L1602.1,937.4 L1604.0,938.0 L1606.0,939.9 L1608.0,941.7 L1610.1,942.4 L1612.1,943.5 L1614.1,944.3 L1616.1,945.0 L1618.1,945.1 L1620.0,945.0 L1622.0,944.9 L1624.0,945.1 L1626.0,944.2 L1627.9,944.1 L1629.9,943.9 L1631.9,943.6 L1633.8,943.4 L1635.8,943.6 L1638.0,943.4 L1640.2,943.5 L1642.4,943.4 L1644.6,943.6 L1646.6,944.1 L1648.3,944.5 L1649.8,944.7 L1651.0,944.4" fill="none" stroke="#1C1C1C" stroke-width="2.8" stroke-linejoin="round"/>
<path d="M645.8,288.1 L647.5,299.6 L650.2,302.3 L652.0,303.1 L653.8,309.3 L655.5,315.5 L657.8,316.7 L660.0,320.9 L661.8,328.8 L663.5,333.4 L665.3,342.1 L667.5,329.5 L669.7,317.3 L671.6,326.8 L673.5,327.6 L675.4,336.8 L677.7,327.9 L679.9,321.9 L682.1,318.2 L683.9,322.4 L685.6,324.4 L687.4,323.5 L689.4,330.1 L691.4,342.1 L693.0,326.9 L694.7,318.2 L696.3,303.1 L699.4,329.7 L701.3,326.3 L703.2,315.5 L705.1,310.2 L707.8,312.0 L709.5,318.0 L711.3,327.9 L713.1,314.7 L715.7,339.5 L717.5,335.4 L719.3,324.2 L721.1,318.2 L723.3,322.0 L725.5,324.4 L727.7,321.5 L729.9,317.3 L733.0,331.5 L735.0,320.0 L737.0,306.7 L739.0,319.6 L741.0,327.1 L744.1,315.5 L747.2,341.2 L749.2,331.8 L751.2,316.4 L753.4,309.7 L755.6,300.5 L757.4,314.5 L759.1,324.4 L760.9,326.3 L762.7,324.4 L765.8,348.3 L768.0,311.1 L770.2,272.1 L772.5,297.8 L774.7,324.4 L776.8,312.8 L778.8,303.2 L780.9,294.8 L784.0,296.4 L786.3,316.6 L788.4,309.0 L790.5,297.1 L792.6,285.5 L795.7,307.3 L797.7,300.9 L799.6,299.5 L801.5,287.3 L803.5,269.9 L805.5,284.0 L807.4,301.0 L810.5,293.3 L812.6,296.1 L814.6,296.1 L816.7,297.9 L818.7,292.6 L820.6,290.2 L822.5,306.2 L824.5,326.0 L826.3,307.8 L828.2,288.0 L830.0,269.9 L831.8,272.8 L833.6,275.3 L835.4,276.1 L837.8,294.5 L840.1,308.8 L843.2,296.4 L845.5,333.7 L847.5,323.5 L849.4,308.8 L852.5,319.7 L854.5,316.2 L856.4,314.1 L858.3,306.9 L860.3,302.6 L863.4,315.1 L865.1,323.0 L866.9,328.0 L868.6,333.5 L870.4,336.9 L873.5,310.4 L875.9,326.0 L878.0,322.0 L880.0,323.3 L882.1,321.3 L885.2,297.9 L888.3,321.3 L890.6,314.4 L893.0,307.3 L896.1,313.5 L898.2,307.8 L900.2,306.5 L902.3,304.2 L904.2,300.4 L906.2,296.4 L908.5,287.8 L910.9,285.5 L912.8,289.4 L914.8,299.5 L916.8,293.1 L918.7,285.5 L920.5,293.7 L922.3,306.2 L924.1,311.9 L927.2,296.4 L929.5,299.4 L931.9,297.9 L933.7,309.9 L935.6,319.6 L937.4,327.5 L939.3,317.2 L941.3,310.4 L943.6,318.8 L945.9,324.4 L947.7,314.6 L949.6,307.5 L951.4,302.6 L953.3,314.3 L955.3,327.5 L957.1,320.2 L958.9,313.1 L960.7,310.4 L962.8,303.2 L964.9,298.8 L967.0,288.6 L968.9,289.8 L970.8,296.4 L973.1,309.5 L975.5,326.0 L978.6,297.9 L980.4,297.5 L982.1,291.9 L983.9,288.4 L985.6,285.5 L988.0,297.9 L989.8,303.6 L991.5,312.4 L993.2,316.4 L995.0,322.8 L996.7,316.3 L998.4,310.1 L1000.1,306.9 L1001.8,296.1 L1003.5,293.3 L1005.1,300.7 L1006.7,308.8 L1008.6,304.2 L1010.5,297.9 L1012.9,301.0 L1015.2,310.4 L1017.4,295.7 L1019.5,283.3 L1022.4,287.6 L1024.5,283.8 L1026.6,281.9 L1028.8,277.2 L1030.9,270.6 L1033.7,287.6 L1036.5,267.7 L1038.3,262.9 L1040.1,257.8 L1041.8,264.2 L1043.6,270.6 L1045.4,266.5 L1047.2,264.9 L1049.3,281.9 L1051.4,264.5 L1053.5,247.9 L1056.4,243.6 L1058.5,251.3 L1060.6,253.6 L1062.8,264.6 L1064.9,280.5 L1067.7,219.5 L1069.8,211.9 L1072.0,209.6 L1074.8,201.1 L1077.6,205.4 L1080.5,191.2 L1083.3,181.3 L1086.2,191.2 L1089.0,208.2 L1091.8,212.4 L1094.7,222.4 L1096.8,227.3 L1098.9,236.5 L1101.1,240.7 L1103.2,250.7 L1105.3,256.9 L1107.4,267.7 L1110.2,290.4 L1112.4,263.5 L1115.2,287.6 L1117.0,271.5 L1118.8,257.8 L1120.5,270.7 L1122.3,280.5 L1124.4,272.1 L1126.5,257.8 L1129.4,287.6 L1131.2,276.0 L1132.9,270.6 L1135.8,281.9 L1137.5,277.0 L1139.3,272.0 L1141.1,286.6 L1142.9,304.6 L1145.0,296.5 L1147.1,283.3 L1150.0,286.2" fill="none" stroke="#9B1BF2" stroke-width="2.2" stroke-linejoin="round"/>
<path d="M644.8,451.4 L647.1,438.1 L649.4,428.0 L651.0,444.4 L652.6,460.7 L655.7,449.8 L658.8,462.3 L660.8,463.2 L662.7,468.5 L664.7,462.0 L666.6,451.4 L669.7,465.4 L671.5,461.6 L673.3,461.6 L675.1,459.2 L677.0,464.2 L679.0,463.8 L681.0,451.5 L682.9,440.5 L685.3,454.5 L688.4,429.6 L690.3,458.8 L692.3,482.0 L694.6,468.9 L696.9,452.9 L699.0,462.0 L701.1,471.4 L703.2,479.4 L705.5,466.7 L707.8,452.9 L710.1,458.3 L712.5,465.4 L714.9,476.9 L717.2,482.0 L719.2,470.7 L721.1,460.7 L722.9,469.1 L724.6,473.6 L726.4,473.7 L728.1,482.0 L730.4,471.4 L732.7,463.8 L734.5,467.8 L736.4,474.1 L738.2,476.3 L740.0,463.3 L741.8,455.2 L743.6,443.6 L745.7,445.9 L747.8,451.6 L749.9,452.9 L752.2,453.3 L754.5,448.3 L756.5,443.0 L758.4,434.3 L760.3,451.0 L762.3,471.6 L764.0,462.4 L765.8,449.4 L767.5,441.1 L769.3,428.0 L771.2,435.6 L773.2,443.6 L775.5,457.9 L777.9,466.9 L779.8,456.8 L781.8,440.5 L783.6,456.4 L785.4,470.3 L787.2,482.0 L789.5,468.7 L791.9,451.4 L793.7,438.5 L795.6,422.3 L797.4,410.9 L800.5,431.1 L803.6,420.2 L805.5,437.4 L807.5,448.3 L809.8,444.2 L812.1,440.5 L814.5,445.2 L816.8,456.0 L818.8,460.3 L820.7,465.4 L822.7,461.8 L824.6,459.2 L827.7,412.5 L830.0,419.1 L832.4,429.6 L834.3,427.8 L836.3,420.2 L839.4,438.9 L841.3,426.3 L843.3,418.7 L846.4,437.4 L848.5,429.1 L850.5,415.9 L852.6,404.7 L854.5,409.6 L856.5,418.7 L858.3,430.2 L860.2,443.2 L862.0,456.0 L863.8,444.8 L865.6,440.1 L867.4,429.6 L869.2,439.4 L871.1,450.3 L872.9,456.0 L874.7,453.4 L876.5,448.5 L878.3,442.0 L880.6,456.9 L883.0,465.4 L885.0,461.9 L886.9,452.9 L888.7,450.2 L890.5,445.9 L892.3,442.0 L895.0,457.0 L898.1,467.9 L900.0,458.0 L902.0,447.7 L903.8,443.5 L905.7,438.0 L907.5,429.0 L909.3,441.0 L911.1,450.9 L912.9,458.6 L916.0,447.7 L918.0,454.8 L919.9,467.9 L921.8,456.5 L923.8,446.1 L926.1,438.0 L928.5,435.2 L931.6,447.7 L933.5,442.0 L935.5,435.2 L938.6,449.2 L940.7,443.5 L942.7,437.1 L944.8,430.5 L946.8,438.2 L948.7,441.4 L950.7,456.0 L952.6,474.1 L955.0,449.1 L957.3,421.2 L960.4,444.6 L962.7,419.6 L964.7,434.2 L966.6,447.7 L968.2,425.9 L970.0,433.9 L971.8,448.7 L973.6,455.5 L975.5,456.5 L977.5,463.2 L979.6,456.2 L981.6,450.0 L983.7,443.0 L986.0,447.5 L988.4,450.8 L990.3,434.4 L992.3,411.9 L994.6,437.1 L997.0,461.7 L998.8,457.4 L1000.6,446.9 L1002.4,441.4 L1004.5,435.6 L1006.6,427.7 L1008.7,424.3 L1011.0,426.0 L1013.3,425.9 L1015.6,420.7 L1018.0,416.5 L1020.4,423.8 L1022.7,427.4 L1025.0,423.4 L1027.3,424.3 L1029.1,421.5 L1031.0,422.0 L1032.8,416.5 L1035.9,425.9 L1038.0,413.9 L1040.0,409.3 L1042.1,399.4 L1044.4,433.2 L1046.8,464.8 L1048.8,437.4 L1050.7,407.2 L1053.1,399.8 L1055.4,391.6 L1057.5,382.3 L1059.5,375.9 L1061.6,363.6 L1064.7,391.6 L1067.8,365.1 L1069.8,368.4 L1071.7,374.5 L1073.5,364.4 L1075.4,352.7 L1077.2,340.2 L1079.5,338.6 L1081.8,334.0 L1084.2,345.6 L1086.5,357.4 L1088.8,342.6 L1091.2,334.0 L1093.5,345.1 L1095.8,352.7 L1097.4,364.5 L1099.0,379.2 L1101.3,384.1 L1103.6,385.4 L1106.7,405.6 L1109.1,397.1 L1111.4,382.3 L1114.5,408.7 L1116.5,405.8 L1118.4,399.4 L1120.3,422.1 L1122.3,446.1 L1124.7,418.8 L1127.0,386.9 L1129.3,401.0 L1131.7,416.5 L1134.0,400.5 L1136.3,386.9 L1138.7,399.1 L1141.0,410.3 L1142.8,423.7 L1144.6,436.4 L1146.4,447.7 L1148.3,438.7 L1150.3,429.0" fill="none" stroke="#0E8A2A" stroke-width="2.4" stroke-linejoin="round"/>
<path d="M645.6,574.6 L647.9,580.8 L649.8,594.0 L651.8,601.0 L654.9,594.8 L657.2,588.0 L659.6,587.0 L661.7,583.8 L663.7,577.6 L665.8,573.0 L667.8,578.2 L669.7,577.7 L672.0,557.5 L674.4,582.6 L676.7,608.8 L679.0,608.4 L681.4,602.6 L683.7,595.8 L686.0,593.3 L688.4,598.0 L690.7,596.4 L692.7,608.3 L694.6,621.3 L696.4,609.9 L698.2,601.6 L700.0,593.3 L702.4,607.3 L704.3,598.8 L706.3,588.6 L708.1,591.9 L709.9,600.3 L711.7,607.3 L714.0,601.8 L716.4,602.6 L718.3,592.0 L720.3,587.0 L722.2,598.1 L724.2,613.5 L726.5,609.4 L728.9,608.8 L732.0,630.0 L733.8,609.6 L735.6,593.8 L737.4,573.0 L740.5,594.8 L743.6,587.0 L746.8,557.5 L748.7,569.4 L750.6,582.4 L752.5,580.0 L754.5,573.0 L756.5,588.0 L758.4,597.9 L760.8,584.1 L763.1,565.2 L765.2,578.5 L767.2,586.5 L769.3,596.4 L771.6,588.1 L774.0,577.7 L777.1,587.0 L778.9,586.3 L780.8,581.1 L782.6,577.7 L784.5,585.5 L786.5,597.9 L788.8,582.4 L791.1,595.0 L793.5,607.3 L795.8,605.9 L798.1,604.2 L800.5,596.7 L802.8,593.3 L804.6,593.8 L806.5,597.5 L808.3,602.6 L810.6,594.5 L812.9,583.9 L814.8,601.5 L816.8,615.1 L818.8,599.8 L820.7,582.4 L823.8,594.8 L825.5,593.2 L827.3,589.5 L829.0,588.2 L830.8,590.2 L832.4,597.9 L834.1,586.8 L835.9,574.0 L837.6,561.5 L839.4,549.7 L841.3,559.2 L843.3,573.0 L845.6,587.7 L848.0,607.3 L849.8,597.0 L851.6,588.3 L853.4,582.4 L855.5,588.7 L857.5,592.6 L859.6,599.5 L862.0,583.9 L864.1,588.9 L866.1,592.8 L868.2,597.9 L870.2,606.8 L872.1,615.1 L874.5,593.3 L876.8,568.4 L878.6,580.0 L880.4,585.8 L882.2,597.9 L884.2,590.7 L886.1,577.7 L888.5,591.6 L890.8,601.0 L892.9,593.7 L895.0,582.4 L898.1,593.3 L900.0,597.7 L902.0,602.7 L904.4,590.0 L906.7,571.5 L908.7,575.0 L910.6,574.6 L912.7,583.3 L914.7,596.6 L916.8,605.8 L919.9,587.1 L921.8,592.4 L923.8,593.3 L925.8,587.1 L927.7,580.3 L929.6,570.2 L931.6,562.2 L933.5,571.8 L935.5,579.3 L937.6,580.2 L939.6,587.6 L941.7,590.2 L944.0,594.2 L946.4,602.7 L948.2,581.8 L950.0,560.6 L951.8,535.7 L954.1,556.7 L956.5,579.3 L958.2,582.4 L960.0,588.1 L961.8,597.0 L963.5,602.7 L965.6,592.2 L967.6,587.6 L969.7,577.8 L971.8,577.4 L973.9,575.7 L976.0,574.6 L978.0,579.6 L979.9,582.4 L982.2,568.4 L984.0,566.2 L985.8,568.1 L987.6,568.4 L989.5,576.4 L991.5,590.2 L993.6,587.4 L995.7,585.9 L997.8,580.9 L999.9,577.7 L1001.9,580.0 L1004.0,577.8 L1006.0,579.0 L1007.9,572.8 L1009.8,570.1 L1011.8,570.0 L1013.9,575.1 L1015.9,585.6 L1018.0,590.2 L1020.4,579.0 L1022.7,573.1 L1025.0,571.8 L1027.3,566.9 L1029.4,561.7 L1031.5,561.3 L1033.6,556.0 L1035.5,569.4 L1037.5,577.8 L1039.4,565.2 L1041.3,548.2 L1043.1,550.9 L1045.0,557.8 L1046.8,562.2 L1048.6,550.1 L1050.4,542.8 L1052.2,529.5 L1054.6,526.6 L1056.9,526.4 L1060.0,540.4 L1061.8,535.7 L1063.7,534.6 L1065.5,532.6 L1067.6,522.7 L1069.6,516.3 L1071.7,510.8 L1074.1,523.8 L1076.4,534.2 L1078.5,517.0 L1080.5,500.0 L1082.6,485.9 L1084.4,493.9 L1086.3,494.8 L1088.1,501.5 L1090.2,508.1 L1092.2,512.0 L1094.3,515.5 L1096.2,523.6 L1098.0,532.0 L1099.9,539.4 L1101.7,548.8 L1103.6,554.4 L1105.3,546.7 L1107.1,535.0 L1108.8,528.5 L1110.6,518.6 L1112.4,518.1 L1114.3,520.3 L1116.1,517.1 L1119.2,554.4 L1121.2,537.1 L1123.1,524.8 L1125.0,540.1 L1127.0,556.0 L1128.8,556.9 L1130.6,549.0 L1132.4,549.7 L1134.8,552.7 L1137.1,552.8 L1139.4,573.3 L1141.8,588.7 L1143.6,580.6 L1145.4,568.2 L1147.2,562.2 L1149.1,550.4 L1151.0,535.0" fill="none" stroke="#9A1A1E" stroke-width="2.0" stroke-linejoin="round"/>
<path d="M645.6,735.2 L647.5,727.3 L649.4,718.0 L651.2,729.3 L653.1,735.4 L654.9,744.5 L656.8,732.6 L658.8,718.0 L661.9,732.0 L663.8,729.3 L665.8,721.1 L668.9,730.5 L671.2,743.8 L673.6,756.9 L675.7,748.0 L677.7,737.6 L679.8,725.8 L681.8,732.0 L683.7,733.6 L685.7,737.6 L687.6,747.6 L690.7,728.9 L693.8,749.2 L695.6,745.0 L697.5,748.2 L699.3,742.9 L701.2,740.6 L703.2,735.2 L705.3,744.0 L707.3,757.5 L709.4,766.3 L711.5,765.2 L713.5,767.5 L715.6,769.4 L717.7,758.1 L719.7,745.9 L721.8,736.7 L723.8,749.2 L725.7,766.3 L728.9,755.4 L731.2,748.4 L733.5,741.4 L735.5,748.5 L737.4,753.8 L739.3,746.4 L741.3,741.4 L743.6,745.5 L746.0,747.6 L748.0,756.1 L749.9,758.5 L752.2,747.1 L754.5,741.4 L756.3,742.0 L758.2,742.9 L760.0,747.6 L761.8,750.3 L763.5,750.1 L765.2,751.9 L767.0,753.8 L769.1,743.9 L771.1,739.0 L773.2,728.9 L775.5,743.0 L777.9,753.8 L779.8,746.5 L781.8,739.8 L783.9,750.7 L785.9,755.7 L788.0,766.3 L789.8,746.6 L791.7,731.8 L793.5,710.2 L795.6,711.6 L797.6,714.2 L799.7,719.6 L801.7,723.6 L803.6,734.7 L805.5,742.7 L807.5,747.6 L809.8,733.1 L812.1,724.3 L815.3,727.4 L818.4,693.1 L820.5,698.2 L822.5,702.8 L824.6,708.7 L826.5,717.7 L828.5,728.9 L830.9,708.6 L833.2,691.6 L835.5,712.7 L837.8,735.2 L839.6,722.0 L841.5,716.1 L843.3,702.5 L846.4,722.7 L848.7,705.6 L850.7,713.8 L852.6,725.8 L854.4,738.0 L856.3,750.6 L858.1,761.6 L859.9,748.6 L861.7,733.4 L863.5,719.6 L865.2,732.7 L866.8,748.3 L868.5,758.5 L870.7,745.5 L872.9,736.7 L876.0,747.6 L878.0,737.1 L879.9,730.5 L882.2,739.3 L884.5,750.7 L886.2,751.9 L888.0,749.5 L889.8,748.9 L891.5,749.2 L893.2,746.3 L895.0,748.8 L896.6,754.6 L898.3,765.2 L899.9,755.8 L901.6,742.7 L903.2,734.1 L904.8,731.1 L906.5,727.0 L908.1,725.9 L909.8,731.2 L911.4,739.0 L913.8,716.1 L916.3,742.3 L917.9,736.0 L919.6,736.2 L921.2,729.2 L922.9,736.9 L924.5,743.0 L926.1,748.3 L927.8,757.0 L929.4,755.9 L931.1,750.9 L932.7,747.2 L934.6,734.5 L936.5,724.4 L938.4,716.1 L940.3,725.0 L942.2,727.0 L944.1,734.1 L945.8,734.1 L947.4,732.6 L949.1,735.7 L952.3,748.8 L953.9,752.8 L955.6,750.5 L957.2,754.2 L958.9,755.4 L960.8,748.1 L962.7,738.2 L964.6,729.2 L966.5,739.3 L968.5,749.5 L970.4,761.9 L972.0,755.4 L973.6,744.8 L975.3,739.3 L976.9,730.8 L979.0,746.8 L981.0,757.0 L982.9,750.3 L984.7,739.2 L986.5,729.3 L988.4,719.3 L990.0,724.8 L991.7,736.6 L993.3,742.3 L994.9,735.1 L996.6,721.6 L998.2,712.8 L999.8,715.5 L1001.5,723.9 L1003.1,729.2 L1004.7,718.9 L1006.4,711.8 L1008.0,699.7 L1009.7,712.2 L1011.3,721.1 L1013.0,732.4 L1014.6,728.1 L1016.2,723.3 L1017.9,719.9 L1019.5,714.4 L1021.1,714.1 L1022.8,713.0 L1024.4,708.9 L1026.1,709.5 L1027.7,721.8 L1029.4,727.4 L1031.0,740.6 L1032.9,724.9 L1034.8,712.6 L1036.7,698.0 L1038.6,707.0 L1040.5,722.7 L1042.4,734.1 L1044.3,710.6 L1046.3,688.3 L1048.2,666.9 L1050.2,688.0 L1052.3,714.4 L1053.9,704.2 L1055.5,696.0 L1057.2,683.2 L1058.8,676.7 L1060.4,687.1 L1062.1,693.1 L1064.2,682.3 L1066.2,665.3 L1068.1,662.7 L1070.0,660.2 L1071.9,657.1 L1073.5,652.6 L1075.2,644.9 L1076.8,637.4 L1078.4,620.5 L1080.1,601.4 L1081.7,598.5 L1083.4,596.1 L1085.0,593.2 L1087.0,595.6 L1089.1,599.7 L1091.6,617.8 L1093.7,648.0 L1095.7,683.3 L1097.8,693.3 L1099.8,699.7 L1101.8,695.0 L1103.9,688.2 L1106.0,704.7 L1108.0,727.5 L1109.6,722.2 L1111.3,716.4 L1112.9,706.2 L1114.5,709.5 L1116.2,716.5 L1117.8,717.7 L1119.4,713.4 L1121.1,712.8 L1122.8,717.7 L1124.4,721.0 L1127.6,701.3 L1129.2,706.5 L1130.9,707.9 L1132.5,712.2 L1134.2,716.4 L1135.8,722.6 L1137.8,728.5 L1139.9,739.0 L1142.0,725.3 L1144.0,711.1 L1145.6,715.3 L1147.3,721.9 L1148.9,727.5" fill="none" stroke="#1E1E8A" stroke-width="2.0" stroke-linejoin="round"/>
<path d="M645.3,935.9 L648.0,928.8 L650.2,921.7 L652.4,909.3 L654.2,906.4 L655.9,908.5 L657.7,907.5 L659.9,899.4 L662.1,891.6 L664.4,904.3 L666.6,911.1 L668.4,915.0 L670.1,920.2 L671.9,925.2 L674.1,910.6 L676.3,895.1 L678.4,903.2 L680.4,915.5 L682.5,921.7 L684.7,915.3 L686.9,904.0 L688.7,904.8 L690.4,900.0 L692.2,902.2 L694.5,932.8 L696.7,957.1 L698.5,947.7 L700.2,937.6 L702.3,931.8 L704.3,924.9 L706.4,918.2 L708.6,937.8 L710.8,957.1 L712.6,954.1 L714.3,944.1 L716.1,937.6 L717.9,934.1 L719.7,928.4 L721.5,916.4 L723.3,918.8 L725.0,922.9 L726.8,927.9 L728.6,932.3 L730.8,923.3 L733.0,909.3 L735.2,913.8 L737.4,919.9 L739.2,912.4 L741.0,909.6 L742.7,904.9 L744.5,902.2 L746.2,906.2 L748.0,916.4 L749.8,913.0 L751.6,906.1 L753.4,898.7 L755.1,899.9 L756.9,905.8 L758.7,900.0 L760.4,900.6 L762.2,893.4 L764.9,866.8 L767.1,874.3 L769.3,879.2 L771.1,881.8 L772.8,885.6 L774.6,888.0 L776.4,883.1 L778.2,872.1 L780.0,871.6 L781.7,875.3 L783.5,875.6 L785.2,865.5 L787.0,861.5 L788.8,873.8 L790.5,884.6 L792.3,898.7 L794.1,889.4 L795.8,881.5 L797.6,873.9 L799.9,865.4 L802.1,857.9 L804.7,893.4 L806.5,892.4 L808.3,886.3 L810.0,896.9 L811.8,909.3 L813.5,898.3 L815.3,893.4 L817.1,899.1 L818.9,903.2 L820.7,904.0 L822.5,915.0 L824.2,921.7 L826.0,933.7 L827.7,948.3 L830.0,939.4 L832.2,932.3 L834.4,942.0 L836.6,948.3 L838.4,940.3 L840.1,934.8 L841.9,932.3 L843.7,928.8 L845.5,925.2 L848.1,905.8 L850.3,904.9 L852.5,907.5 L854.3,919.7 L856.1,932.3 L857.9,929.2 L859.7,933.5 L861.4,929.7 L863.2,928.8 L865.0,921.9 L866.7,915.8 L868.5,911.1 L870.3,916.7 L872.0,927.0 L873.8,932.3 L875.5,921.8 L877.3,907.5 L879.1,908.8 L880.9,909.1 L882.7,905.8 L885.3,916.4 L887.5,920.6 L889.7,923.5 L891.4,922.0 L893.0,922.0 L895.0,926.5 L897.0,914.3 L898.9,903.1 L900.8,910.5 L902.8,922.6 L904.5,914.9 L906.2,908.9 L907.9,904.5 L909.6,895.3 L911.2,894.5 L912.9,890.1 L914.5,891.4 L916.1,891.0 L917.8,889.1 L919.4,889.5 L922.3,858.3 L923.9,867.4 L925.6,874.7 L927.2,879.7 L929.6,903.7 L932.0,926.5 L933.6,917.1 L935.3,905.2 L936.9,895.3 L938.5,886.1 L940.2,881.6 L941.8,871.9 L943.8,887.3 L945.7,899.2 L947.3,901.2 L948.9,905.2 L950.5,906.1 L952.2,907.0 L953.8,904.8 L955.4,909.0 L957.3,907.0 L959.3,899.2 L961.3,910.9 L963.2,896.6 L965.2,887.5 L967.2,897.3 L969.1,910.9 L971.0,905.6 L973.0,905.1 L975.0,915.7 L976.9,930.4 L978.5,923.9 L980.1,915.2 L981.7,907.0 L983.3,907.9 L985.0,911.6 L986.6,916.8 L988.5,909.6 L990.5,899.2 L992.5,902.9 L994.4,909.0 L996.3,893.5 L998.3,881.7 L999.9,886.9 L1001.6,886.6 L1003.2,891.4 L1005.6,877.1 L1008.0,868.0 L1010.0,859.4 L1012.0,850.5 L1013.9,850.1 L1015.9,843.5 L1017.8,844.7 L1019.8,831.9 L1021.7,817.4 L1023.6,817.3 L1025.6,821.3 L1027.5,814.9 L1029.5,803.7 L1031.4,800.9 L1033.4,797.5 L1035.3,795.9 L1037.2,783.1 L1039.2,772.5 L1041.2,777.6 L1043.1,788.1 L1045.0,773.4 L1047.0,764.7 L1049.0,771.6 L1050.9,778.4 L1052.8,793.0 L1054.8,807.6 L1056.8,813.9 L1058.7,822.1 L1060.7,833.0 L1062.6,837.8 L1064.6,846.0 L1066.5,848.5 L1068.5,867.1 L1070.4,891.4 L1072.3,893.5 L1074.3,893.4 L1076.2,913.7 L1078.2,928.5 L1080.1,931.8 L1082.1,936.7 L1084.0,942.1 L1086.0,941.8 L1087.9,939.1 L1089.9,940.2 L1092.8,918.7 L1094.8,930.3 L1096.7,948.0 L1098.7,935.4 L1100.6,929.7 L1102.6,916.8 L1104.2,926.1 L1105.8,938.7 L1107.4,946.0 L1109.0,944.6 L1110.7,948.9 L1112.3,948.0 L1113.9,940.4 L1115.6,935.4 L1117.2,930.4 L1119.2,929.0 L1121.1,927.7 L1123.0,924.7 L1125.0,918.7 L1127.0,922.6 L1128.9,920.1 L1130.8,925.4 L1132.8,926.5 L1134.8,931.9 L1136.7,934.3 L1139.1,930.9 L1141.5,930.4 L1144.5,953.8 L1147.4,963.5 L1149.0,966.0" fill="none" stroke="#1C1C1C" stroke-width="2.3" stroke-linejoin="round"/>
<path d="M977.0,304.6 L978.0,304.6 L979.0,304.6 L980.0,304.6 L981.0,304.6 L982.0,304.6 L983.0,304.6 L984.0,304.6 L985.0,304.6 L986.0,304.6 L987.0,304.6 L988.0,304.6 L989.0,304.6 L990.0,304.6 L991.0,304.6 L992.0,304.6 L993.0,304.6 L994.0,304.6 L995.0,304.6 L996.0,304.6 L997.0,304.6 L998.0,304.6 L999.0,304.6 L1000.0,304.6 L1001.0,304.6 L1002.0,304.6 L1003.0,304.6 L1004.0,304.6 L1005.0,304.6 L1006.0,304.6 L1007.0,304.6 L1008.0,304.6 L1009.0,304.6 L1010.0,304.6 L1011.0,304.6 L1012.0,304.6 L1013.0,304.6 L1014.0,304.5 L1015.0,304.5 L1016.0,304.5 L1017.0,304.5 L1018.0,304.5 L1019.0,304.5 L1020.0,304.5 L1021.0,304.5 L1022.0,304.5 L1023.0,304.5 L1024.0,304.5 L1025.0,304.5 L1026.0,304.5 L1027.0,304.4 L1028.0,304.4 L1029.0,304.4 L1030.0,304.4 L1031.0,304.4 L1032.0,304.4 L1033.0,304.4 L1034.0,304.3 L1035.0,304.3 L1036.0,304.3 L1037.0,304.3 L1038.0,304.2 L1039.0,304.2 L1040.0,304.2 L1041.0,304.1 L1042.0,304.1 L1043.0,304.0 L1044.0,304.0 L1045.0,303.9 L1046.0,303.9 L1047.0,303.8 L1048.0,303.8 L1049.0,303.7 L1050.0,303.6 L1051.0,303.5 L1052.0,303.4 L1053.0,303.4 L1054.0,303.3 L1055.0,303.1 L1056.0,303.0 L1057.0,302.9 L1058.0,302.8 L1059.0,302.6 L1060.0,302.5 L1061.0,302.3 L1062.0,302.1 L1063.0,302.0 L1064.0,301.8 L1065.0,301.5 L1066.0,301.3 L1067.0,301.1 L1068.0,300.9 L1069.0,300.6 L1070.0,300.3 L1071.0,300.0 L1072.0,299.7 L1073.0,299.4 L1074.0,299.1 L1075.0,298.8 L1076.0,298.4 L1077.0,298.1 L1078.0,297.7 L1079.0,297.4 L1080.0,297.0 L1081.0,296.6 L1082.0,296.2 L1083.0,295.8 L1084.0,295.4 L1085.0,295.0 L1086.0,294.6 L1087.0,294.2 L1088.0,293.8 L1089.0,293.4 L1090.0,293.0 L1091.0,292.6 L1092.0,292.3 L1093.0,291.9 L1094.0,291.6 L1095.0,291.2 L1096.0,290.9 L1097.0,290.6 L1098.0,290.3 L1099.0,290.0 L1100.0,289.7 L1101.0,289.4 L1102.0,289.1 L1103.0,288.9 L1104.0,288.7 L1105.0,288.5 L1106.0,288.2 L1107.0,288.0 L1108.0,287.9 L1109.0,287.7 L1110.0,287.5 L1111.0,287.4 L1112.0,287.2 L1113.0,287.1 L1114.0,287.0 L1115.0,286.9 L1116.0,286.7 L1117.0,286.6 L1118.0,286.6 L1119.0,286.5 L1120.0,286.4 L1121.0,286.3 L1122.0,286.2 L1123.0,286.2 L1124.0,286.1 L1125.0,286.1 L1126.0,286.0 L1127.0,286.0 L1128.0,285.9 L1129.0,285.9 L1130.0,285.8 L1131.0,285.8 L1132.0,285.8 L1133.0,285.7 L1134.0,285.7 L1135.0,285.7 L1136.0,285.7 L1137.0,285.6 L1138.0,285.6 L1139.0,285.6 L1140.0,285.6 L1141.0,285.6 L1142.0,285.6 L1143.0,285.6 L1144.0,285.5 L1145.0,285.5 L1146.0,285.5 L1147.0,285.5 L1148.0,285.5 L1149.0,285.5 L1150.0,285.5" fill="none" stroke="#9B1BF2" stroke-width="1.4" stroke-opacity="0.85"/>
<path d="M977.0,304.6 L978.0,304.6 L979.0,304.6 L980.0,304.6 L981.0,304.6 L982.0,304.6 L983.0,304.6 L984.0,304.6 L985.0,304.6 L986.0,304.6 L987.0,304.6 L988.0,304.6 L989.0,304.6 L990.0,304.6 L991.0,304.6 L992.0,304.6 L993.0,304.6 L994.0,304.6 L995.0,304.6 L996.0,304.5 L997.0,304.5 L998.0,304.5 L999.0,304.5 L1000.0,304.4 L1001.0,304.4 L1002.0,304.3 L1003.0,304.2 L1004.0,304.1 L1005.0,303.9 L1006.0,303.7 L1007.0,303.4 L1008.0,303.1 L1009.0,302.8 L1010.0,302.4 L1011.0,301.9 L1012.0,301.3 L1013.0,300.6 L1014.0,299.8 L1015.0,299.0 L1016.0,298.0 L1017.0,297.0 L1018.0,295.9 L1019.0,294.8 L1020.0,293.6 L1021.0,292.4 L1022.0,291.2 L1023.0,290.0 L1024.0,288.8 L1025.0,287.8 L1026.0,286.8 L1027.0,286.0 L1028.0,285.3 L1029.0,284.8 L1030.0,284.5 L1031.0,284.4 L1032.0,284.5 L1033.0,284.7 L1034.0,285.2 L1035.0,285.8 L1036.0,286.6 L1037.0,287.5 L1038.0,288.6 L1039.0,289.7 L1040.0,290.8 L1041.0,292.0 L1042.0,293.2 L1043.0,294.3 L1044.0,295.4 L1045.0,296.4 L1046.0,297.4 L1047.0,298.3 L1048.0,299.0 L1049.0,299.7 L1050.0,300.3 L1051.0,300.8 L1052.0,301.2 L1053.0,301.6 L1054.0,301.8 L1055.0,302.0 L1056.0,302.1 L1057.0,302.2 L1058.0,302.2 L1059.0,302.2 L1060.0,302.2 L1061.0,302.1 L1062.0,302.0 L1063.0,301.8 L1064.0,301.7 L1065.0,301.5 L1066.0,301.3 L1067.0,301.1 L1068.0,300.8 L1069.0,300.6 L1070.0,300.3 L1071.0,300.0 L1072.0,299.7 L1073.0,299.4 L1074.0,299.1 L1075.0,298.8 L1076.0,298.4 L1077.0,298.1 L1078.0,297.7 L1079.0,297.4 L1080.0,297.0 L1081.0,296.6 L1082.0,296.2 L1083.0,295.8 L1084.0,295.4 L1085.0,295.0 L1086.0,294.6 L1087.0,294.2 L1088.0,293.8 L1089.0,293.4 L1090.0,293.0 L1091.0,292.6 L1092.0,292.3 L1093.0,291.9 L1094.0,291.6 L1095.0,291.2 L1096.0,290.9 L1097.0,290.6 L1098.0,290.3 L1099.0,290.0 L1100.0,289.7 L1101.0,289.4 L1102.0,289.1 L1103.0,288.9 L1104.0,288.7 L1105.0,288.5 L1106.0,288.2 L1107.0,288.0 L1108.0,287.9 L1109.0,287.7 L1110.0,287.5 L1111.0,287.4 L1112.0,287.2 L1113.0,287.1 L1114.0,287.0 L1115.0,286.9 L1116.0,286.7 L1117.0,286.6 L1118.0,286.6 L1119.0,286.5 L1120.0,286.4 L1121.0,286.3 L1122.0,286.2 L1123.0,286.2 L1124.0,286.1 L1125.0,286.1 L1126.0,286.0 L1127.0,286.0 L1128.0,285.9 L1129.0,285.9 L1130.0,285.8 L1131.0,285.8 L1132.0,285.8 L1133.0,285.7 L1134.0,285.7 L1135.0,285.7 L1136.0,285.7 L1137.0,285.6 L1138.0,285.6 L1139.0,285.6 L1140.0,285.6 L1141.0,285.6 L1142.0,285.6 L1143.0,285.6 L1144.0,285.5 L1145.0,285.5 L1146.0,285.5 L1147.0,285.5 L1148.0,285.5 L1149.0,285.5 L1150.0,285.5" fill="none" stroke="#9B1BF2" stroke-width="1.4" stroke-opacity="0.85"/>
<path d="M977.0,304.6 L978.0,304.6 L979.0,304.6 L980.0,304.6 L981.0,304.6 L982.0,304.6 L983.0,304.6 L984.0,304.6 L985.0,304.6 L986.0,304.6 L987.0,304.6 L988.0,304.6 L989.0,304.6 L990.0,304.6 L991.0,304.6 L992.0,304.6 L993.0,304.6 L994.0,304.6 L995.0,304.6 L996.0,304.6 L997.0,304.6 L998.0,304.6 L999.0,304.6 L1000.0,304.6 L1001.0,304.6 L1002.0,304.6 L1003.0,304.6 L1004.0,304.6 L1005.0,304.6 L1006.0,304.6 L1007.0,304.6 L1008.0,304.6 L1009.0,304.6 L1010.0,304.6 L1011.0,304.6 L1012.0,304.6 L1013.0,304.6 L1014.0,304.5 L1015.0,304.5 L1016.0,304.5 L1017.0,304.5 L1018.0,304.5 L1019.0,304.5 L1020.0,304.5 L1021.0,304.5 L1022.0,304.5 L1023.0,304.5 L1024.0,304.5 L1025.0,304.5 L1026.0,304.4 L1027.0,304.4 L1028.0,304.4 L1029.0,304.4 L1030.0,304.4 L1031.0,304.3 L1032.0,304.3 L1033.0,304.2 L1034.0,304.2 L1035.0,304.1 L1036.0,304.0 L1037.0,303.9 L1038.0,303.7 L1039.0,303.6 L1040.0,303.4 L1041.0,303.1 L1042.0,302.8 L1043.0,302.5 L1044.0,302.0 L1045.0,301.5 L1046.0,300.9 L1047.0,300.2 L1048.0,299.4 L1049.0,298.4 L1050.0,297.2 L1051.0,295.9 L1052.0,294.4 L1053.0,292.7 L1054.0,290.7 L1055.0,288.5 L1056.0,286.0 L1057.0,283.3 L1058.0,280.2 L1059.0,276.9 L1060.0,273.3 L1061.0,269.4 L1062.0,265.2 L1063.0,260.8 L1064.0,256.1 L1065.0,251.2 L1066.0,246.1 L1067.0,240.9 L1068.0,235.7 L1069.0,230.3 L1070.0,225.1 L1071.0,219.9 L1072.0,214.8 L1073.0,210.0 L1074.0,205.5 L1075.0,201.3 L1076.0,197.6 L1077.0,194.3 L1078.0,191.5 L1079.0,189.3 L1080.0,187.7 L1081.0,186.7 L1082.0,186.3 L1083.0,186.5 L1084.0,187.4 L1085.0,188.8 L1086.0,190.8 L1087.0,193.3 L1088.0,196.4 L1089.0,199.8 L1090.0,203.6 L1091.0,207.7 L1092.0,212.1 L1093.0,216.7 L1094.0,221.3 L1095.0,226.0 L1096.0,230.7 L1097.0,235.4 L1098.0,239.9 L1099.0,244.3 L1100.0,248.5 L1101.0,252.5 L1102.0,256.2 L1103.0,259.7 L1104.0,262.9 L1105.0,265.9 L1106.0,268.6 L1107.0,271.0 L1108.0,273.2 L1109.0,275.1 L1110.0,276.8 L1111.0,278.3 L1112.0,279.6 L1113.0,280.7 L1114.0,281.7 L1115.0,282.5 L1116.0,283.1 L1117.0,283.7 L1118.0,284.1 L1119.0,284.5 L1120.0,284.8 L1121.0,285.1 L1122.0,285.2 L1123.0,285.4 L1124.0,285.5 L1125.0,285.6 L1126.0,285.6 L1127.0,285.7 L1128.0,285.7 L1129.0,285.7 L1130.0,285.7 L1131.0,285.7 L1132.0,285.7 L1133.0,285.7 L1134.0,285.7 L1135.0,285.7 L1136.0,285.6 L1137.0,285.6 L1138.0,285.6 L1139.0,285.6 L1140.0,285.6 L1141.0,285.6 L1142.0,285.6 L1143.0,285.5 L1144.0,285.5 L1145.0,285.5 L1146.0,285.5 L1147.0,285.5 L1148.0,285.5 L1149.0,285.5 L1150.0,285.5" fill="none" stroke="#9B1BF2" stroke-width="1.4" stroke-opacity="0.85"/>
<path d="M977.0,304.6 L978.0,304.6 L979.0,304.6 L980.0,304.6 L981.0,304.6 L982.0,304.6 L983.0,304.6 L984.0,304.6 L985.0,304.6 L986.0,304.6 L987.0,304.6 L988.0,304.6 L989.0,304.6 L990.0,304.6 L991.0,304.6 L992.0,304.6 L993.0,304.6 L994.0,304.6 L995.0,304.6 L996.0,304.5 L997.0,304.5 L998.0,304.5 L999.0,304.5 L1000.0,304.4 L1001.0,304.4 L1002.0,304.3 L1003.0,304.2 L1004.0,304.1 L1005.0,303.9 L1006.0,303.7 L1007.0,303.4 L1008.0,303.1 L1009.0,302.8 L1010.0,302.4 L1011.0,301.9 L1012.0,301.3 L1013.0,300.6 L1014.0,299.8 L1015.0,299.0 L1016.0,298.0 L1017.0,297.0 L1018.0,295.9 L1019.0,294.8 L1020.0,293.6 L1021.0,292.4 L1022.0,291.2 L1023.0,290.0 L1024.0,288.8 L1025.0,287.8 L1026.0,286.8 L1027.0,286.0 L1028.0,285.3 L1029.0,284.8 L1030.0,284.5 L1031.0,284.3 L1032.0,284.4 L1033.0,284.6 L1034.0,285.0 L1035.0,285.6 L1036.0,286.3 L1037.0,287.2 L1038.0,288.1 L1039.0,289.1 L1040.0,290.0 L1041.0,291.0 L1042.0,291.9 L1043.0,292.7 L1044.0,293.5 L1045.0,294.0 L1046.0,294.4 L1047.0,294.6 L1048.0,294.7 L1049.0,294.4 L1050.0,293.9 L1051.0,293.2 L1052.0,292.2 L1053.0,290.9 L1054.0,289.3 L1055.0,287.4 L1056.0,285.1 L1057.0,282.6 L1058.0,279.7 L1059.0,276.5 L1060.0,273.0 L1061.0,269.2 L1062.0,265.0 L1063.0,260.6 L1064.0,256.0 L1065.0,251.1 L1066.0,246.1 L1067.0,240.9 L1068.0,235.6 L1069.0,230.3 L1070.0,225.1 L1071.0,219.9 L1072.0,214.8 L1073.0,210.0 L1074.0,205.5 L1075.0,201.3 L1076.0,197.6 L1077.0,194.3 L1078.0,191.5 L1079.0,189.3 L1080.0,187.7 L1081.0,186.7 L1082.0,186.3 L1083.0,186.5 L1084.0,187.4 L1085.0,188.8 L1086.0,190.8 L1087.0,193.3 L1088.0,196.4 L1089.0,199.8 L1090.0,203.6 L1091.0,207.7 L1092.0,212.1 L1093.0,216.7 L1094.0,221.3 L1095.0,226.0 L1096.0,230.7 L1097.0,235.4 L1098.0,239.9 L1099.0,244.3 L1100.0,248.5 L1101.0,252.5 L1102.0,256.2 L1103.0,259.7 L1104.0,262.9 L1105.0,265.9 L1106.0,268.6 L1107.0,271.0 L1108.0,273.2 L1109.0,275.1 L1110.0,276.8 L1111.0,278.3 L1112.0,279.6 L1113.0,280.7 L1114.0,281.7 L1115.0,282.5 L1116.0,283.1 L1117.0,283.7 L1118.0,284.1 L1119.0,284.5 L1120.0,284.8 L1121.0,285.1 L1122.0,285.2 L1123.0,285.4 L1124.0,285.5 L1125.0,285.6 L1126.0,285.6 L1127.0,285.7 L1128.0,285.7 L1129.0,285.7 L1130.0,285.7 L1131.0,285.7 L1132.0,285.7 L1133.0,285.7 L1134.0,285.7 L1135.0,285.7 L1136.0,285.6 L1137.0,285.6 L1138.0,285.6 L1139.0,285.6 L1140.0,285.6 L1141.0,285.6 L1142.0,285.6 L1143.0,285.5 L1144.0,285.5 L1145.0,285.5 L1146.0,285.5 L1147.0,285.5 L1148.0,285.5 L1149.0,285.5 L1150.0,285.5" fill="none" stroke="#9B1BF2" stroke-width="1.4" stroke-opacity="0.85"/>
<path d="M983.0,453.5 L984.0,453.5 L985.0,453.5 L986.0,453.5 L987.0,453.5 L988.0,453.5 L989.0,453.5 L990.0,453.5 L991.0,453.5 L992.0,453.5 L993.0,453.5 L994.0,453.5 L995.0,453.5 L996.0,453.5 L997.0,453.5 L998.0,453.4 L999.0,453.4 L1000.0,453.4 L1001.0,453.4 L1002.0,453.4 L1003.0,453.4 L1004.0,453.4 L1005.0,453.4 L1006.0,453.4 L1007.0,453.4 L1008.0,453.4 L1009.0,453.4 L1010.0,453.4 L1011.0,453.4 L1012.0,453.3 L1013.0,453.3 L1014.0,453.3 L1015.0,453.3 L1016.0,453.3 L1017.0,453.3 L1018.0,453.3 L1019.0,453.2 L1020.0,453.2 L1021.0,453.2 L1022.0,453.2 L1023.0,453.2 L1024.0,453.1 L1025.0,453.1 L1026.0,453.1 L1027.0,453.0 L1028.0,453.0 L1029.0,452.9 L1030.0,452.9 L1031.0,452.9 L1032.0,452.8 L1033.0,452.8 L1034.0,452.7 L1035.0,452.6 L1036.0,452.6 L1037.0,452.5 L1038.0,452.4 L1039.0,452.3 L1040.0,452.2 L1041.0,452.1 L1042.0,452.0 L1043.0,451.9 L1044.0,451.8 L1045.0,451.7 L1046.0,451.6 L1047.0,451.4 L1048.0,451.3 L1049.0,451.1 L1050.0,450.9 L1051.0,450.7 L1052.0,450.5 L1053.0,450.3 L1054.0,450.1 L1055.0,449.8 L1056.0,449.6 L1057.0,449.3 L1058.0,449.0 L1059.0,448.7 L1060.0,448.4 L1061.0,448.0 L1062.0,447.7 L1063.0,447.3 L1064.0,446.9 L1065.0,446.5 L1066.0,446.0 L1067.0,445.6 L1068.0,445.1 L1069.0,444.6 L1070.0,444.1 L1071.0,443.6 L1072.0,443.1 L1073.0,442.5 L1074.0,441.9 L1075.0,441.3 L1076.0,440.7 L1077.0,440.1 L1078.0,439.5 L1079.0,438.9 L1080.0,438.3 L1081.0,437.6 L1082.0,437.0 L1083.0,436.4 L1084.0,435.7 L1085.0,435.1 L1086.0,434.5 L1087.0,433.9 L1088.0,433.3 L1089.0,432.7 L1090.0,432.1 L1091.0,431.5 L1092.0,430.9 L1093.0,430.4 L1094.0,429.9 L1095.0,429.4 L1096.0,428.9 L1097.0,428.4 L1098.0,428.0 L1099.0,427.5 L1100.0,427.1 L1101.0,426.7 L1102.0,426.3 L1103.0,426.0 L1104.0,425.6 L1105.0,425.3 L1106.0,425.0 L1107.0,424.7 L1108.0,424.4 L1109.0,424.2 L1110.0,423.9 L1111.0,423.7 L1112.0,423.5 L1113.0,423.3 L1114.0,423.1 L1115.0,422.9 L1116.0,422.7 L1117.0,422.6 L1118.0,422.4 L1119.0,422.3 L1120.0,422.2 L1121.0,422.1 L1122.0,422.0 L1123.0,421.9 L1124.0,421.8 L1125.0,421.7 L1126.0,421.6 L1127.0,421.5 L1128.0,421.4 L1129.0,421.4 L1130.0,421.3 L1131.0,421.2 L1132.0,421.2 L1133.0,421.1 L1134.0,421.1 L1135.0,421.1 L1136.0,421.0 L1137.0,421.0 L1138.0,420.9 L1139.0,420.9 L1140.0,420.9 L1141.0,420.8 L1142.0,420.8" fill="none" stroke="#0E8A2A" stroke-width="1.4" stroke-opacity="0.85"/>
<path d="M983.0,453.5 L984.0,453.5 L985.0,453.5 L986.0,453.5 L987.0,453.5 L988.0,453.4 L989.0,453.4 L990.0,453.4 L991.0,453.4 L992.0,453.4 L993.0,453.3 L994.0,453.3 L995.0,453.2 L996.0,453.1 L997.0,453.1 L998.0,452.9 L999.0,452.8 L1000.0,452.7 L1001.0,452.5 L1002.0,452.2 L1003.0,452.0 L1004.0,451.7 L1005.0,451.3 L1006.0,450.9 L1007.0,450.4 L1008.0,449.9 L1009.0,449.3 L1010.0,448.6 L1011.0,447.9 L1012.0,447.1 L1013.0,446.2 L1014.0,445.3 L1015.0,444.3 L1016.0,443.2 L1017.0,442.1 L1018.0,441.0 L1019.0,439.9 L1020.0,438.8 L1021.0,437.7 L1022.0,436.6 L1023.0,435.5 L1024.0,434.6 L1025.0,433.7 L1026.0,432.9 L1027.0,432.2 L1028.0,431.7 L1029.0,431.3 L1030.0,431.0 L1031.0,430.9 L1032.0,430.9 L1033.0,431.1 L1034.0,431.4 L1035.0,431.8 L1036.0,432.4 L1037.0,433.1 L1038.0,433.9 L1039.0,434.7 L1040.0,435.6 L1041.0,436.6 L1042.0,437.6 L1043.0,438.6 L1044.0,439.6 L1045.0,440.5 L1046.0,441.5 L1047.0,442.4 L1048.0,443.2 L1049.0,443.9 L1050.0,444.6 L1051.0,445.2 L1052.0,445.8 L1053.0,446.2 L1054.0,446.6 L1055.0,446.8 L1056.0,447.1 L1057.0,447.2 L1058.0,447.3 L1059.0,447.2 L1060.0,447.2 L1061.0,447.1 L1062.0,446.9 L1063.0,446.7 L1064.0,446.4 L1065.0,446.1 L1066.0,445.7 L1067.0,445.3 L1068.0,444.9 L1069.0,444.5 L1070.0,444.0 L1071.0,443.5 L1072.0,443.0 L1073.0,442.4 L1074.0,441.9 L1075.0,441.3 L1076.0,440.7 L1077.0,440.1 L1078.0,439.5 L1079.0,438.9 L1080.0,438.3 L1081.0,437.6 L1082.0,437.0 L1083.0,436.4 L1084.0,435.7 L1085.0,435.1 L1086.0,434.5 L1087.0,433.9 L1088.0,433.3 L1089.0,432.7 L1090.0,432.1 L1091.0,431.5 L1092.0,430.9 L1093.0,430.4 L1094.0,429.9 L1095.0,429.4 L1096.0,428.9 L1097.0,428.4 L1098.0,428.0 L1099.0,427.5 L1100.0,427.1 L1101.0,426.7 L1102.0,426.3 L1103.0,426.0 L1104.0,425.6 L1105.0,425.3 L1106.0,425.0 L1107.0,424.7 L1108.0,424.4 L1109.0,424.2 L1110.0,423.9 L1111.0,423.7 L1112.0,423.5 L1113.0,423.3 L1114.0,423.1 L1115.0,422.9 L1116.0,422.7 L1117.0,422.6 L1118.0,422.4 L1119.0,422.3 L1120.0,422.2 L1121.0,422.1 L1122.0,422.0 L1123.0,421.9 L1124.0,421.8 L1125.0,421.7 L1126.0,421.6 L1127.0,421.5 L1128.0,421.4 L1129.0,421.4 L1130.0,421.3 L1131.0,421.2 L1132.0,421.2 L1133.0,421.1 L1134.0,421.1 L1135.0,421.1 L1136.0,421.0 L1137.0,421.0 L1138.0,420.9 L1139.0,420.9 L1140.0,420.9 L1141.0,420.8 L1142.0,420.8" fill="none" stroke="#0E8A2A" stroke-width="1.4" stroke-opacity="0.85"/>
<path d="M983.0,453.5 L984.0,453.5 L985.0,453.5 L986.0,453.5 L987.0,453.5 L988.0,453.5 L989.0,453.5 L990.0,453.5 L991.0,453.5 L992.0,453.5 L993.0,453.5 L994.0,453.5 L995.0,453.5 L996.0,453.5 L997.0,453.5 L998.0,453.4 L999.0,453.4 L1000.0,453.4 L1001.0,453.4 L1002.0,453.4 L1003.0,453.4 L1004.0,453.4 L1005.0,453.4 L1006.0,453.4 L1007.0,453.4 L1008.0,453.4 L1009.0,453.4 L1010.0,453.4 L1011.0,453.4 L1012.0,453.3 L1013.0,453.3 L1014.0,453.3 L1015.0,453.3 L1016.0,453.3 L1017.0,453.3 L1018.0,453.3 L1019.0,453.2 L1020.0,453.2 L1021.0,453.2 L1022.0,453.2 L1023.0,453.1 L1024.0,453.1 L1025.0,453.0 L1026.0,453.0 L1027.0,452.9 L1028.0,452.9 L1029.0,452.8 L1030.0,452.7 L1031.0,452.6 L1032.0,452.5 L1033.0,452.4 L1034.0,452.2 L1035.0,452.0 L1036.0,451.8 L1037.0,451.6 L1038.0,451.3 L1039.0,450.9 L1040.0,450.6 L1041.0,450.1 L1042.0,449.6 L1043.0,449.0 L1044.0,448.3 L1045.0,447.5 L1046.0,446.6 L1047.0,445.6 L1048.0,444.5 L1049.0,443.2 L1050.0,441.7 L1051.0,440.1 L1052.0,438.3 L1053.0,436.4 L1054.0,434.2 L1055.0,431.8 L1056.0,429.2 L1057.0,426.4 L1058.0,423.3 L1059.0,420.1 L1060.0,416.6 L1061.0,412.9 L1062.0,409.0 L1063.0,404.9 L1064.0,400.7 L1065.0,396.3 L1066.0,391.8 L1067.0,387.3 L1068.0,382.6 L1069.0,378.0 L1070.0,373.4 L1071.0,368.8 L1072.0,364.3 L1073.0,360.0 L1074.0,355.9 L1075.0,352.0 L1076.0,348.4 L1077.0,345.1 L1078.0,342.1 L1079.0,339.5 L1080.0,337.3 L1081.0,335.5 L1082.0,334.2 L1083.0,333.4 L1084.0,333.0 L1085.0,333.0 L1086.0,333.5 L1087.0,334.5 L1088.0,335.8 L1089.0,337.6 L1090.0,339.7 L1091.0,342.2 L1092.0,344.9 L1093.0,347.9 L1094.0,351.2 L1095.0,354.6 L1096.0,358.1 L1097.0,361.8 L1098.0,365.5 L1099.0,369.2 L1100.0,372.9 L1101.0,376.6 L1102.0,380.2 L1103.0,383.6 L1104.0,387.0 L1105.0,390.2 L1106.0,393.2 L1107.0,396.1 L1108.0,398.8 L1109.0,401.2 L1110.0,403.5 L1111.0,405.7 L1112.0,407.6 L1113.0,409.3 L1114.0,410.9 L1115.0,412.3 L1116.0,413.6 L1117.0,414.7 L1118.0,415.7 L1119.0,416.5 L1120.0,417.3 L1121.0,417.9 L1122.0,418.4 L1123.0,418.9 L1124.0,419.3 L1125.0,419.6 L1126.0,419.9 L1127.0,420.1 L1128.0,420.3 L1129.0,420.4 L1130.0,420.5 L1131.0,420.6 L1132.0,420.7 L1133.0,420.7 L1134.0,420.8 L1135.0,420.8 L1136.0,420.8 L1137.0,420.8 L1138.0,420.8 L1139.0,420.8 L1140.0,420.8 L1141.0,420.8 L1142.0,420.8" fill="none" stroke="#0E8A2A" stroke-width="1.4" stroke-opacity="0.85"/>
<path d="M983.0,453.5 L984.0,453.5 L985.0,453.5 L986.0,453.5 L987.0,453.5 L988.0,453.4 L989.0,453.4 L990.0,453.4 L991.0,453.4 L992.0,453.4 L993.0,453.3 L994.0,453.3 L995.0,453.2 L996.0,453.1 L997.0,453.1 L998.0,452.9 L999.0,452.8 L1000.0,452.7 L1001.0,452.5 L1002.0,452.2 L1003.0,452.0 L1004.0,451.7 L1005.0,451.3 L1006.0,450.9 L1007.0,450.4 L1008.0,449.9 L1009.0,449.3 L1010.0,448.6 L1011.0,447.9 L1012.0,447.1 L1013.0,446.2 L1014.0,445.3 L1015.0,444.3 L1016.0,443.2 L1017.0,442.1 L1018.0,441.0 L1019.0,439.9 L1020.0,438.8 L1021.0,437.6 L1022.0,436.5 L1023.0,435.5 L1024.0,434.5 L1025.0,433.6 L1026.0,432.8 L1027.0,432.1 L1028.0,431.5 L1029.0,431.1 L1030.0,430.8 L1031.0,430.6 L1032.0,430.6 L1033.0,430.7 L1034.0,430.9 L1035.0,431.2 L1036.0,431.6 L1037.0,432.1 L1038.0,432.7 L1039.0,433.3 L1040.0,433.9 L1041.0,434.6 L1042.0,435.1 L1043.0,435.6 L1044.0,436.1 L1045.0,436.4 L1046.0,436.6 L1047.0,436.6 L1048.0,436.4 L1049.0,436.0 L1050.0,435.5 L1051.0,434.6 L1052.0,433.6 L1053.0,432.3 L1054.0,430.7 L1055.0,428.8 L1056.0,426.7 L1057.0,424.3 L1058.0,421.6 L1059.0,418.6 L1060.0,415.4 L1061.0,411.9 L1062.0,408.2 L1063.0,404.3 L1064.0,400.2 L1065.0,395.9 L1066.0,391.5 L1067.0,387.0 L1068.0,382.5 L1069.0,377.8 L1070.0,373.3 L1071.0,368.7 L1072.0,364.3 L1073.0,360.0 L1074.0,355.9 L1075.0,352.0 L1076.0,348.3 L1077.0,345.0 L1078.0,342.1 L1079.0,339.5 L1080.0,337.3 L1081.0,335.5 L1082.0,334.2 L1083.0,333.4 L1084.0,333.0 L1085.0,333.0 L1086.0,333.5 L1087.0,334.5 L1088.0,335.8 L1089.0,337.6 L1090.0,339.7 L1091.0,342.2 L1092.0,344.9 L1093.0,347.9 L1094.0,351.2 L1095.0,354.6 L1096.0,358.1 L1097.0,361.8 L1098.0,365.5 L1099.0,369.2 L1100.0,372.9 L1101.0,376.6 L1102.0,380.2 L1103.0,383.6 L1104.0,387.0 L1105.0,390.2 L1106.0,393.2 L1107.0,396.1 L1108.0,398.8 L1109.0,401.2 L1110.0,403.5 L1111.0,405.7 L1112.0,407.6 L1113.0,409.3 L1114.0,410.9 L1115.0,412.3 L1116.0,413.6 L1117.0,414.7 L1118.0,415.7 L1119.0,416.5 L1120.0,417.3 L1121.0,417.9 L1122.0,418.4 L1123.0,418.9 L1124.0,419.3 L1125.0,419.6 L1126.0,419.9 L1127.0,420.1 L1128.0,420.3 L1129.0,420.4 L1130.0,420.5 L1131.0,420.6 L1132.0,420.7 L1133.0,420.7 L1134.0,420.8 L1135.0,420.8 L1136.0,420.8 L1137.0,420.8 L1138.0,420.8 L1139.0,420.8 L1140.0,420.8 L1141.0,420.8 L1142.0,420.8" fill="none" stroke="#0E8A2A" stroke-width="1.4" stroke-opacity="0.85"/>
<path d="M992.0,592.4 L993.0,592.4 L994.0,592.4 L995.0,592.4 L996.0,592.3 L997.0,592.3 L998.0,592.3 L999.0,592.3 L1000.0,592.3 L1001.0,592.3 L1002.0,592.3 L1003.0,592.3 L1004.0,592.2 L1005.0,592.2 L1006.0,592.2 L1007.0,592.2 L1008.0,592.2 L1009.0,592.1 L1010.0,592.1 L1011.0,592.1 L1012.0,592.1 L1013.0,592.1 L1014.0,592.0 L1015.0,592.0 L1016.0,592.0 L1017.0,591.9 L1018.0,591.9 L1019.0,591.8 L1020.0,591.8 L1021.0,591.8 L1022.0,591.7 L1023.0,591.7 L1024.0,591.6 L1025.0,591.6 L1026.0,591.5 L1027.0,591.4 L1028.0,591.4 L1029.0,591.3 L1030.0,591.2 L1031.0,591.2 L1032.0,591.1 L1033.0,591.0 L1034.0,590.9 L1035.0,590.8 L1036.0,590.7 L1037.0,590.6 L1038.0,590.5 L1039.0,590.3 L1040.0,590.2 L1041.0,590.1 L1042.0,589.9 L1043.0,589.8 L1044.0,589.6 L1045.0,589.4 L1046.0,589.3 L1047.0,589.1 L1048.0,588.9 L1049.0,588.7 L1050.0,588.4 L1051.0,588.2 L1052.0,588.0 L1053.0,587.7 L1054.0,587.5 L1055.0,587.2 L1056.0,586.9 L1057.0,586.6 L1058.0,586.3 L1059.0,586.0 L1060.0,585.6 L1061.0,585.3 L1062.0,584.9 L1063.0,584.6 L1064.0,584.2 L1065.0,583.8 L1066.0,583.4 L1067.0,582.9 L1068.0,582.5 L1069.0,582.0 L1070.0,581.6 L1071.0,581.1 L1072.0,580.6 L1073.0,580.2 L1074.0,579.7 L1075.0,579.2 L1076.0,578.7 L1077.0,578.1 L1078.0,577.6 L1079.0,577.1 L1080.0,576.6 L1081.0,576.0 L1082.0,575.5 L1083.0,575.0 L1084.0,574.4 L1085.0,573.9 L1086.0,573.4 L1087.0,572.9 L1088.0,572.3 L1089.0,571.8 L1090.0,571.3 L1091.0,570.8 L1092.0,570.4 L1093.0,569.9 L1094.0,569.4 L1095.0,569.0 L1096.0,568.5 L1097.0,568.1 L1098.0,567.6 L1099.0,567.2 L1100.0,566.8 L1101.0,566.4 L1102.0,566.1 L1103.0,565.7 L1104.0,565.4 L1105.0,565.0 L1106.0,564.7 L1107.0,564.4 L1108.0,564.1 L1109.0,563.8 L1110.0,563.5 L1111.0,563.3 L1112.0,563.0 L1113.0,562.8 L1114.0,562.6 L1115.0,562.3 L1116.0,562.1 L1117.0,561.9 L1118.0,561.7 L1119.0,561.6 L1120.0,561.4 L1121.0,561.2 L1122.0,561.1 L1123.0,560.9 L1124.0,560.8 L1125.0,560.7 L1126.0,560.5 L1127.0,560.4 L1128.0,560.3 L1129.0,560.2 L1130.0,560.1 L1131.0,560.0 L1132.0,559.9 L1133.0,559.8 L1134.0,559.8 L1135.0,559.7 L1136.0,559.6 L1137.0,559.6" fill="none" stroke="#9A1A1E" stroke-width="1.4" stroke-opacity="0.85"/>
<path d="M992.0,592.3 L993.0,592.2 L994.0,592.2 L995.0,592.1 L996.0,592.1 L997.0,592.0 L998.0,591.9 L999.0,591.8 L1000.0,591.7 L1001.0,591.6 L1002.0,591.5 L1003.0,591.3 L1004.0,591.1 L1005.0,590.9 L1006.0,590.7 L1007.0,590.4 L1008.0,590.1 L1009.0,589.8 L1010.0,589.5 L1011.0,589.1 L1012.0,588.7 L1013.0,588.3 L1014.0,587.8 L1015.0,587.3 L1016.0,586.8 L1017.0,586.2 L1018.0,585.7 L1019.0,585.1 L1020.0,584.5 L1021.0,583.9 L1022.0,583.3 L1023.0,582.7 L1024.0,582.1 L1025.0,581.5 L1026.0,580.9 L1027.0,580.4 L1028.0,579.9 L1029.0,579.4 L1030.0,579.0 L1031.0,578.7 L1032.0,578.4 L1033.0,578.1 L1034.0,577.9 L1035.0,577.8 L1036.0,577.7 L1037.0,577.7 L1038.0,577.8 L1039.0,577.9 L1040.0,578.0 L1041.0,578.2 L1042.0,578.4 L1043.0,578.7 L1044.0,579.0 L1045.0,579.4 L1046.0,579.7 L1047.0,580.1 L1048.0,580.4 L1049.0,580.8 L1050.0,581.1 L1051.0,581.5 L1052.0,581.8 L1053.0,582.0 L1054.0,582.3 L1055.0,582.5 L1056.0,582.7 L1057.0,582.8 L1058.0,582.9 L1059.0,583.0 L1060.0,583.0 L1061.0,583.0 L1062.0,582.9 L1063.0,582.8 L1064.0,582.6 L1065.0,582.5 L1066.0,582.2 L1067.0,582.0 L1068.0,581.7 L1069.0,581.4 L1070.0,581.0 L1071.0,580.6 L1072.0,580.3 L1073.0,579.8 L1074.0,579.4 L1075.0,578.9 L1076.0,578.5 L1077.0,578.0 L1078.0,577.5 L1079.0,577.0 L1080.0,576.5 L1081.0,576.0 L1082.0,575.5 L1083.0,574.9 L1084.0,574.4 L1085.0,573.9 L1086.0,573.4 L1087.0,572.9 L1088.0,572.3 L1089.0,571.8 L1090.0,571.3 L1091.0,570.8 L1092.0,570.4 L1093.0,569.9 L1094.0,569.4 L1095.0,568.9 L1096.0,568.5 L1097.0,568.1 L1098.0,567.6 L1099.0,567.2 L1100.0,566.8 L1101.0,566.4 L1102.0,566.1 L1103.0,565.7 L1104.0,565.4 L1105.0,565.0 L1106.0,564.7 L1107.0,564.4 L1108.0,564.1 L1109.0,563.8 L1110.0,563.5 L1111.0,563.3 L1112.0,563.0 L1113.0,562.8 L1114.0,562.6 L1115.0,562.3 L1116.0,562.1 L1117.0,561.9 L1118.0,561.7 L1119.0,561.6 L1120.0,561.4 L1121.0,561.2 L1122.0,561.1 L1123.0,560.9 L1124.0,560.8 L1125.0,560.7 L1126.0,560.5 L1127.0,560.4 L1128.0,560.3 L1129.0,560.2 L1130.0,560.1 L1131.0,560.0 L1132.0,559.9 L1133.0,559.8 L1134.0,559.8 L1135.0,559.7 L1136.0,559.6 L1137.0,559.6" fill="none" stroke="#9A1A1E" stroke-width="1.4" stroke-opacity="0.85"/>
<path d="M992.0,592.4 L993.0,592.4 L994.0,592.4 L995.0,592.4 L996.0,592.3 L997.0,592.3 L998.0,592.3 L999.0,592.3 L1000.0,592.3 L1001.0,592.3 L1002.0,592.3 L1003.0,592.3 L1004.0,592.2 L1005.0,592.2 L1006.0,592.2 L1007.0,592.2 L1008.0,592.2 L1009.0,592.1 L1010.0,592.1 L1011.0,592.1 L1012.0,592.1 L1013.0,592.0 L1014.0,592.0 L1015.0,592.0 L1016.0,591.9 L1017.0,591.9 L1018.0,591.9 L1019.0,591.8 L1020.0,591.8 L1021.0,591.7 L1022.0,591.7 L1023.0,591.6 L1024.0,591.5 L1025.0,591.4 L1026.0,591.4 L1027.0,591.3 L1028.0,591.1 L1029.0,591.0 L1030.0,590.9 L1031.0,590.7 L1032.0,590.5 L1033.0,590.3 L1034.0,590.1 L1035.0,589.8 L1036.0,589.5 L1037.0,589.2 L1038.0,588.8 L1039.0,588.4 L1040.0,587.9 L1041.0,587.3 L1042.0,586.7 L1043.0,586.0 L1044.0,585.2 L1045.0,584.4 L1046.0,583.4 L1047.0,582.3 L1048.0,581.2 L1049.0,579.8 L1050.0,578.4 L1051.0,576.8 L1052.0,575.1 L1053.0,573.3 L1054.0,571.3 L1055.0,569.1 L1056.0,566.8 L1057.0,564.4 L1058.0,561.8 L1059.0,559.0 L1060.0,556.1 L1061.0,553.1 L1062.0,550.0 L1063.0,546.8 L1064.0,543.5 L1065.0,540.1 L1066.0,536.7 L1067.0,533.2 L1068.0,529.7 L1069.0,526.3 L1070.0,522.9 L1071.0,519.6 L1072.0,516.4 L1073.0,513.3 L1074.0,510.4 L1075.0,507.7 L1076.0,505.2 L1077.0,502.9 L1078.0,500.9 L1079.0,499.1 L1080.0,497.6 L1081.0,496.4 L1082.0,495.6 L1083.0,495.0 L1084.0,494.7 L1085.0,494.8 L1086.0,495.2 L1087.0,495.8 L1088.0,496.8 L1089.0,498.0 L1090.0,499.5 L1091.0,501.1 L1092.0,503.0 L1093.0,505.1 L1094.0,507.3 L1095.0,509.7 L1096.0,512.2 L1097.0,514.7 L1098.0,517.3 L1099.0,519.9 L1100.0,522.5 L1101.0,525.1 L1102.0,527.7 L1103.0,530.2 L1104.0,532.7 L1105.0,535.0 L1106.0,537.2 L1107.0,539.4 L1108.0,541.4 L1109.0,543.3 L1110.0,545.1 L1111.0,546.7 L1112.0,548.2 L1113.0,549.6 L1114.0,550.9 L1115.0,552.0 L1116.0,553.1 L1117.0,554.0 L1118.0,554.8 L1119.0,555.5 L1120.0,556.2 L1121.0,556.7 L1122.0,557.2 L1123.0,557.6 L1124.0,558.0 L1125.0,558.3 L1126.0,558.5 L1127.0,558.7 L1128.0,558.9 L1129.0,559.0 L1130.0,559.1 L1131.0,559.2 L1132.0,559.3 L1133.0,559.3 L1134.0,559.3 L1135.0,559.3 L1136.0,559.3 L1137.0,559.3" fill="none" stroke="#9A1A1E" stroke-width="1.4" stroke-opacity="0.85"/>
<path d="M992.0,592.3 L993.0,592.2 L994.0,592.2 L995.0,592.1 L996.0,592.1 L997.0,592.0 L998.0,591.9 L999.0,591.8 L1000.0,591.7 L1001.0,591.6 L1002.0,591.5 L1003.0,591.3 L1004.0,591.1 L1005.0,590.9 L1006.0,590.7 L1007.0,590.4 L1008.0,590.1 L1009.0,589.8 L1010.0,589.5 L1011.0,589.1 L1012.0,588.7 L1013.0,588.3 L1014.0,587.8 L1015.0,587.3 L1016.0,586.8 L1017.0,586.2 L1018.0,585.6 L1019.0,585.1 L1020.0,584.4 L1021.0,583.8 L1022.0,583.2 L1023.0,582.6 L1024.0,582.0 L1025.0,581.4 L1026.0,580.8 L1027.0,580.2 L1028.0,579.7 L1029.0,579.2 L1030.0,578.7 L1031.0,578.2 L1032.0,577.8 L1033.0,577.5 L1034.0,577.1 L1035.0,576.8 L1036.0,576.6 L1037.0,576.3 L1038.0,576.1 L1039.0,575.9 L1040.0,575.7 L1041.0,575.5 L1042.0,575.3 L1043.0,575.0 L1044.0,574.7 L1045.0,574.3 L1046.0,573.9 L1047.0,573.3 L1048.0,572.7 L1049.0,572.0 L1050.0,571.1 L1051.0,570.1 L1052.0,568.9 L1053.0,567.6 L1054.0,566.1 L1055.0,564.4 L1056.0,562.6 L1057.0,560.6 L1058.0,558.4 L1059.0,556.0 L1060.0,553.5 L1061.0,550.8 L1062.0,548.0 L1063.0,545.0 L1064.0,541.9 L1065.0,538.8 L1066.0,535.5 L1067.0,532.2 L1068.0,528.9 L1069.0,525.6 L1070.0,522.3 L1071.0,519.1 L1072.0,516.0 L1073.0,513.0 L1074.0,510.2 L1075.0,507.5 L1076.0,505.0 L1077.0,502.7 L1078.0,500.7 L1079.0,499.0 L1080.0,497.5 L1081.0,496.4 L1082.0,495.5 L1083.0,495.0 L1084.0,494.7 L1085.0,494.8 L1086.0,495.2 L1087.0,495.8 L1088.0,496.8 L1089.0,498.0 L1090.0,499.4 L1091.0,501.1 L1092.0,503.0 L1093.0,505.1 L1094.0,507.3 L1095.0,509.7 L1096.0,512.2 L1097.0,514.7 L1098.0,517.3 L1099.0,519.9 L1100.0,522.5 L1101.0,525.1 L1102.0,527.7 L1103.0,530.2 L1104.0,532.7 L1105.0,535.0 L1106.0,537.2 L1107.0,539.4 L1108.0,541.4 L1109.0,543.3 L1110.0,545.1 L1111.0,546.7 L1112.0,548.2 L1113.0,549.6 L1114.0,550.9 L1115.0,552.0 L1116.0,553.1 L1117.0,554.0 L1118.0,554.8 L1119.0,555.5 L1120.0,556.2 L1121.0,556.7 L1122.0,557.2 L1123.0,557.6 L1124.0,558.0 L1125.0,558.3 L1126.0,558.5 L1127.0,558.7 L1128.0,558.9 L1129.0,559.0 L1130.0,559.1 L1131.0,559.2 L1132.0,559.3 L1133.0,559.3 L1134.0,559.3 L1135.0,559.3 L1136.0,559.3 L1137.0,559.3" fill="none" stroke="#9A1A1E" stroke-width="1.4" stroke-opacity="0.85"/>
<path d="M994.0,742.5 L995.0,742.5 L996.0,742.5 L997.0,742.5 L998.0,742.5 L999.0,742.5 L1000.0,742.5 L1001.0,742.5 L1002.0,742.5 L1003.0,742.5 L1004.0,742.5 L1005.0,742.5 L1006.0,742.5 L1007.0,742.4 L1008.0,742.4 L1009.0,742.4 L1010.0,742.4 L1011.0,742.4 L1012.0,742.4 L1013.0,742.4 L1014.0,742.4 L1015.0,742.4 L1016.0,742.4 L1017.0,742.4 L1018.0,742.4 L1019.0,742.4 L1020.0,742.4 L1021.0,742.3 L1022.0,742.3 L1023.0,742.3 L1024.0,742.3 L1025.0,742.3 L1026.0,742.3 L1027.0,742.3 L1028.0,742.2 L1029.0,742.2 L1030.0,742.2 L1031.0,742.2 L1032.0,742.2 L1033.0,742.1 L1034.0,742.1 L1035.0,742.1 L1036.0,742.0 L1037.0,742.0 L1038.0,742.0 L1039.0,741.9 L1040.0,741.9 L1041.0,741.8 L1042.0,741.8 L1043.0,741.7 L1044.0,741.6 L1045.0,741.6 L1046.0,741.5 L1047.0,741.4 L1048.0,741.4 L1049.0,741.3 L1050.0,741.2 L1051.0,741.1 L1052.0,741.0 L1053.0,740.9 L1054.0,740.8 L1055.0,740.6 L1056.0,740.5 L1057.0,740.4 L1058.0,740.2 L1059.0,740.0 L1060.0,739.9 L1061.0,739.7 L1062.0,739.5 L1063.0,739.3 L1064.0,739.1 L1065.0,738.9 L1066.0,738.7 L1067.0,738.4 L1068.0,738.2 L1069.0,737.9 L1070.0,737.7 L1071.0,737.4 L1072.0,737.1 L1073.0,736.8 L1074.0,736.5 L1075.0,736.2 L1076.0,735.9 L1077.0,735.5 L1078.0,735.2 L1079.0,734.9 L1080.0,734.5 L1081.0,734.2 L1082.0,733.8 L1083.0,733.5 L1084.0,733.2 L1085.0,732.8 L1086.0,732.5 L1087.0,732.1 L1088.0,731.8 L1089.0,731.5 L1090.0,731.1 L1091.0,730.8 L1092.0,730.5 L1093.0,730.2 L1094.0,729.9 L1095.0,729.6 L1096.0,729.3 L1097.0,729.1 L1098.0,728.8 L1099.0,728.6 L1100.0,728.3 L1101.0,728.1 L1102.0,727.9 L1103.0,727.7 L1104.0,727.5 L1105.0,727.3 L1106.0,727.1 L1107.0,727.0 L1108.0,726.8 L1109.0,726.6 L1110.0,726.5 L1111.0,726.4 L1112.0,726.2 L1113.0,726.1 L1114.0,726.0 L1115.0,725.9 L1116.0,725.8 L1117.0,725.7 L1118.0,725.6 L1119.0,725.6 L1120.0,725.5 L1121.0,725.4 L1122.0,725.4 L1123.0,725.3 L1124.0,725.2 L1125.0,725.2 L1126.0,725.1 L1127.0,725.1 L1128.0,725.0 L1129.0,725.0 L1130.0,725.0 L1131.0,724.9 L1132.0,724.9 L1133.0,724.9 L1134.0,724.8 L1135.0,724.8 L1136.0,724.8 L1137.0,724.8 L1138.0,724.8 L1139.0,724.7 L1140.0,724.7 L1141.0,724.7 L1142.0,724.7 L1143.0,724.7 L1144.0,724.7 L1145.0,724.7 L1146.0,724.6 L1147.0,724.6 L1148.0,724.6 L1149.0,724.6" fill="none" stroke="#1E1E8A" stroke-width="1.4" stroke-opacity="0.85"/>
<path d="M994.0,742.5 L995.0,742.5 L996.0,742.5 L997.0,742.5 L998.0,742.5 L999.0,742.5 L1000.0,742.4 L1001.0,742.4 L1002.0,742.4 L1003.0,742.4 L1004.0,742.4 L1005.0,742.4 L1006.0,742.4 L1007.0,742.3 L1008.0,742.3 L1009.0,742.2 L1010.0,742.2 L1011.0,742.1 L1012.0,742.0 L1013.0,741.9 L1014.0,741.8 L1015.0,741.7 L1016.0,741.5 L1017.0,741.4 L1018.0,741.2 L1019.0,740.9 L1020.0,740.7 L1021.0,740.4 L1022.0,740.1 L1023.0,739.8 L1024.0,739.4 L1025.0,739.0 L1026.0,738.6 L1027.0,738.1 L1028.0,737.7 L1029.0,737.2 L1030.0,736.7 L1031.0,736.3 L1032.0,735.8 L1033.0,735.3 L1034.0,734.9 L1035.0,734.5 L1036.0,734.1 L1037.0,733.7 L1038.0,733.4 L1039.0,733.2 L1040.0,733.0 L1041.0,732.8 L1042.0,732.8 L1043.0,732.7 L1044.0,732.8 L1045.0,732.9 L1046.0,733.0 L1047.0,733.2 L1048.0,733.4 L1049.0,733.7 L1050.0,734.0 L1051.0,734.3 L1052.0,734.6 L1053.0,735.0 L1054.0,735.3 L1055.0,735.6 L1056.0,735.9 L1057.0,736.2 L1058.0,736.5 L1059.0,736.7 L1060.0,737.0 L1061.0,737.1 L1062.0,737.3 L1063.0,737.4 L1064.0,737.4 L1065.0,737.5 L1066.0,737.5 L1067.0,737.4 L1068.0,737.3 L1069.0,737.2 L1070.0,737.1 L1071.0,736.9 L1072.0,736.7 L1073.0,736.5 L1074.0,736.2 L1075.0,736.0 L1076.0,735.7 L1077.0,735.4 L1078.0,735.1 L1079.0,734.8 L1080.0,734.5 L1081.0,734.1 L1082.0,733.8 L1083.0,733.5 L1084.0,733.1 L1085.0,732.8 L1086.0,732.5 L1087.0,732.1 L1088.0,731.8 L1089.0,731.5 L1090.0,731.1 L1091.0,730.8 L1092.0,730.5 L1093.0,730.2 L1094.0,729.9 L1095.0,729.6 L1096.0,729.3 L1097.0,729.1 L1098.0,728.8 L1099.0,728.6 L1100.0,728.3 L1101.0,728.1 L1102.0,727.9 L1103.0,727.7 L1104.0,727.5 L1105.0,727.3 L1106.0,727.1 L1107.0,727.0 L1108.0,726.8 L1109.0,726.6 L1110.0,726.5 L1111.0,726.4 L1112.0,726.2 L1113.0,726.1 L1114.0,726.0 L1115.0,725.9 L1116.0,725.8 L1117.0,725.7 L1118.0,725.6 L1119.0,725.6 L1120.0,725.5 L1121.0,725.4 L1122.0,725.4 L1123.0,725.3 L1124.0,725.2 L1125.0,725.2 L1126.0,725.1 L1127.0,725.1 L1128.0,725.0 L1129.0,725.0 L1130.0,725.0 L1131.0,724.9 L1132.0,724.9 L1133.0,724.9 L1134.0,724.8 L1135.0,724.8 L1136.0,724.8 L1137.0,724.8 L1138.0,724.8 L1139.0,724.7 L1140.0,724.7 L1141.0,724.7 L1142.0,724.7 L1143.0,724.7 L1144.0,724.7 L1145.0,724.7 L1146.0,724.6 L1147.0,724.6 L1148.0,724.6 L1149.0,724.6" fill="none" stroke="#1E1E8A" stroke-width="1.4" stroke-opacity="0.85"/>
<path d="M994.0,742.5 L995.0,742.5 L996.0,742.5 L997.0,742.5 L998.0,742.5 L999.0,742.5 L1000.0,742.5 L1001.0,742.5 L1002.0,742.5 L1003.0,742.5 L1004.0,742.5 L1005.0,742.5 L1006.0,742.5 L1007.0,742.4 L1008.0,742.4 L1009.0,742.4 L1010.0,742.4 L1011.0,742.4 L1012.0,742.4 L1013.0,742.4 L1014.0,742.4 L1015.0,742.4 L1016.0,742.4 L1017.0,742.4 L1018.0,742.4 L1019.0,742.4 L1020.0,742.4 L1021.0,742.3 L1022.0,742.3 L1023.0,742.3 L1024.0,742.3 L1025.0,742.3 L1026.0,742.3 L1027.0,742.3 L1028.0,742.2 L1029.0,742.2 L1030.0,742.2 L1031.0,742.2 L1032.0,742.1 L1033.0,742.1 L1034.0,742.1 L1035.0,742.0 L1036.0,742.0 L1037.0,741.9 L1038.0,741.9 L1039.0,741.8 L1040.0,741.7 L1041.0,741.6 L1042.0,741.4 L1043.0,741.3 L1044.0,741.1 L1045.0,740.8 L1046.0,740.5 L1047.0,740.2 L1048.0,739.7 L1049.0,739.2 L1050.0,738.6 L1051.0,737.8 L1052.0,736.9 L1053.0,735.8 L1054.0,734.4 L1055.0,732.9 L1056.0,731.1 L1057.0,729.0 L1058.0,726.5 L1059.0,723.7 L1060.0,720.6 L1061.0,717.0 L1062.0,713.0 L1063.0,708.6 L1064.0,703.7 L1065.0,698.4 L1066.0,692.7 L1067.0,686.6 L1068.0,680.2 L1069.0,673.4 L1070.0,666.4 L1071.0,659.3 L1072.0,652.0 L1073.0,644.8 L1074.0,637.6 L1075.0,630.7 L1076.0,624.1 L1077.0,618.0 L1078.0,612.4 L1079.0,607.5 L1080.0,603.3 L1081.0,599.9 L1082.0,597.4 L1083.0,595.8 L1084.0,595.2 L1085.0,595.5 L1086.0,596.8 L1087.0,598.9 L1088.0,602.0 L1089.0,605.8 L1090.0,610.4 L1091.0,615.5 L1092.0,621.2 L1093.0,627.3 L1094.0,633.7 L1095.0,640.3 L1096.0,647.0 L1097.0,653.7 L1098.0,660.3 L1099.0,666.7 L1100.0,672.9 L1101.0,678.7 L1102.0,684.2 L1103.0,689.3 L1104.0,694.0 L1105.0,698.3 L1106.0,702.2 L1107.0,705.7 L1108.0,708.7 L1109.0,711.4 L1110.0,713.8 L1111.0,715.8 L1112.0,717.5 L1113.0,719.0 L1114.0,720.2 L1115.0,721.2 L1116.0,722.0 L1117.0,722.7 L1118.0,723.3 L1119.0,723.7 L1120.0,724.0 L1121.0,724.3 L1122.0,724.5 L1123.0,724.6 L1124.0,724.7 L1125.0,724.8 L1126.0,724.9 L1127.0,724.9 L1128.0,724.9 L1129.0,724.9 L1130.0,724.9 L1131.0,724.9 L1132.0,724.9 L1133.0,724.8 L1134.0,724.8 L1135.0,724.8 L1136.0,724.8 L1137.0,724.8 L1138.0,724.8 L1139.0,724.7 L1140.0,724.7 L1141.0,724.7 L1142.0,724.7 L1143.0,724.7 L1144.0,724.7 L1145.0,724.7 L1146.0,724.6 L1147.0,724.6 L1148.0,724.6 L1149.0,724.6" fill="none" stroke="#1E1E8A" stroke-width="1.4" stroke-opacity="0.85"/>
<path d="M994.0,742.5 L995.0,742.5 L996.0,742.5 L997.0,742.5 L998.0,742.5 L999.0,742.5 L1000.0,742.4 L1001.0,742.4 L1002.0,742.4 L1003.0,742.4 L1004.0,742.4 L1005.0,742.4 L1006.0,742.4 L1007.0,742.3 L1008.0,742.3 L1009.0,742.2 L1010.0,742.2 L1011.0,742.1 L1012.0,742.0 L1013.0,741.9 L1014.0,741.8 L1015.0,741.7 L1016.0,741.5 L1017.0,741.4 L1018.0,741.2 L1019.0,740.9 L1020.0,740.7 L1021.0,740.4 L1022.0,740.1 L1023.0,739.8 L1024.0,739.4 L1025.0,739.0 L1026.0,738.6 L1027.0,738.1 L1028.0,737.7 L1029.0,737.2 L1030.0,736.7 L1031.0,736.3 L1032.0,735.8 L1033.0,735.3 L1034.0,734.9 L1035.0,734.4 L1036.0,734.0 L1037.0,733.7 L1038.0,733.3 L1039.0,733.1 L1040.0,732.8 L1041.0,732.6 L1042.0,732.4 L1043.0,732.3 L1044.0,732.2 L1045.0,732.1 L1046.0,732.0 L1047.0,731.9 L1048.0,731.8 L1049.0,731.6 L1050.0,731.4 L1051.0,731.0 L1052.0,730.5 L1053.0,729.8 L1054.0,729.0 L1055.0,727.9 L1056.0,726.5 L1057.0,724.8 L1058.0,722.8 L1059.0,720.4 L1060.0,717.7 L1061.0,714.4 L1062.0,710.8 L1063.0,706.6 L1064.0,702.1 L1065.0,697.0 L1066.0,691.5 L1067.0,685.6 L1068.0,679.3 L1069.0,672.7 L1070.0,665.8 L1071.0,658.8 L1072.0,651.6 L1073.0,644.4 L1074.0,637.4 L1075.0,630.5 L1076.0,624.0 L1077.0,617.9 L1078.0,612.3 L1079.0,607.4 L1080.0,603.2 L1081.0,599.9 L1082.0,597.4 L1083.0,595.8 L1084.0,595.2 L1085.0,595.5 L1086.0,596.8 L1087.0,598.9 L1088.0,602.0 L1089.0,605.8 L1090.0,610.4 L1091.0,615.5 L1092.0,621.2 L1093.0,627.3 L1094.0,633.7 L1095.0,640.3 L1096.0,647.0 L1097.0,653.7 L1098.0,660.3 L1099.0,666.7 L1100.0,672.9 L1101.0,678.7 L1102.0,684.2 L1103.0,689.3 L1104.0,694.0 L1105.0,698.3 L1106.0,702.2 L1107.0,705.7 L1108.0,708.7 L1109.0,711.4 L1110.0,713.8 L1111.0,715.8 L1112.0,717.5 L1113.0,719.0 L1114.0,720.2 L1115.0,721.2 L1116.0,722.0 L1117.0,722.7 L1118.0,723.3 L1119.0,723.7 L1120.0,724.0 L1121.0,724.3 L1122.0,724.5 L1123.0,724.6 L1124.0,724.7 L1125.0,724.8 L1126.0,724.9 L1127.0,724.9 L1128.0,724.9 L1129.0,724.9 L1130.0,724.9 L1131.0,724.9 L1132.0,724.9 L1133.0,724.8 L1134.0,724.8 L1135.0,724.8 L1136.0,724.8 L1137.0,724.8 L1138.0,724.8 L1139.0,724.7 L1140.0,724.7 L1141.0,724.7 L1142.0,724.7 L1143.0,724.7 L1144.0,724.7 L1145.0,724.7 L1146.0,724.6 L1147.0,724.6 L1148.0,724.6 L1149.0,724.6" fill="none" stroke="#1E1E8A" stroke-width="1.4" stroke-opacity="0.85"/>
<path d="M977.0,925.2 L978.0,925.2 L979.0,925.3 L980.0,925.3 L981.0,925.3 L982.0,925.4 L983.0,925.4 L984.0,925.5 L985.0,925.5 L986.0,925.5 L987.0,925.6 L988.0,925.7 L989.0,925.7 L990.0,925.8 L991.0,925.8 L992.0,925.9 L993.0,926.0 L994.0,926.0 L995.0,926.1 L996.0,926.2 L997.0,926.3 L998.0,926.4 L999.0,926.5 L1000.0,926.6 L1001.0,926.7 L1002.0,926.9 L1003.0,927.0 L1004.0,927.1 L1005.0,927.3 L1006.0,927.4 L1007.0,927.6 L1008.0,927.7 L1009.0,927.9 L1010.0,928.1 L1011.0,928.3 L1012.0,928.5 L1013.0,928.7 L1014.0,928.9 L1015.0,929.1 L1016.0,929.4 L1017.0,929.6 L1018.0,929.9 L1019.0,930.2 L1020.0,930.5 L1021.0,930.7 L1022.0,931.0 L1023.0,931.3 L1024.0,931.7 L1025.0,932.0 L1026.0,932.3 L1027.0,932.7 L1028.0,933.0 L1029.0,933.4 L1030.0,933.7 L1031.0,934.1 L1032.0,934.5 L1033.0,934.9 L1034.0,935.2 L1035.0,935.6 L1036.0,936.0 L1037.0,936.4 L1038.0,936.8 L1039.0,937.2 L1040.0,937.6 L1041.0,937.9 L1042.0,938.3 L1043.0,938.7 L1044.0,939.1 L1045.0,939.4 L1046.0,939.8 L1047.0,940.1 L1048.0,940.5 L1049.0,940.8 L1050.0,941.1 L1051.0,941.5 L1052.0,941.8 L1053.0,942.1 L1054.0,942.3 L1055.0,942.6 L1056.0,942.9 L1057.0,943.2 L1058.0,943.4 L1059.0,943.7 L1060.0,943.9 L1061.0,944.1 L1062.0,944.3 L1063.0,944.5 L1064.0,944.7 L1065.0,944.9 L1066.0,945.1 L1067.0,945.2 L1068.0,945.4 L1069.0,945.5 L1070.0,945.7 L1071.0,945.8 L1072.0,945.9 L1073.0,946.1 L1074.0,946.2 L1075.0,946.3 L1076.0,946.4 L1077.0,946.5 L1078.0,946.6 L1079.0,946.7 L1080.0,946.8 L1081.0,946.8 L1082.0,946.9 L1083.0,947.0 L1084.0,947.0 L1085.0,947.1 L1086.0,947.1 L1087.0,947.2 L1088.0,947.3 L1089.0,947.3 L1090.0,947.3 L1091.0,947.4 L1092.0,947.4 L1093.0,947.5 L1094.0,947.5 L1095.0,947.5 L1096.0,947.6" fill="none" stroke="#555555" stroke-width="1.6" stroke-opacity="1.00"/>
<path d="M977.0,922.5 L978.0,922.1 L979.0,921.8 L980.0,921.4 L981.0,920.9 L982.0,920.4 L983.0,919.9 L984.0,919.3 L985.0,918.6 L986.0,917.9 L987.0,917.1 L988.0,916.3 L989.0,915.4 L990.0,914.5 L991.0,913.4 L992.0,912.3 L993.0,911.1 L994.0,909.9 L995.0,908.5 L996.0,907.1 L997.0,905.7 L998.0,904.1 L999.0,902.5 L1000.0,900.8 L1001.0,899.0 L1002.0,897.2 L1003.0,895.3 L1004.0,893.4 L1005.0,891.4 L1006.0,889.4 L1007.0,887.3 L1008.0,885.3 L1009.0,883.2 L1010.0,881.1 L1011.0,879.0 L1012.0,876.9 L1013.0,874.9 L1014.0,872.9 L1015.0,870.9 L1016.0,869.0 L1017.0,867.2 L1018.0,865.5 L1019.0,863.8 L1020.0,862.3 L1021.0,860.9 L1022.0,859.6 L1023.0,858.4 L1024.0,857.4 L1025.0,856.6 L1026.0,855.9 L1027.0,855.4 L1028.0,855.0 L1029.0,854.9 L1030.0,854.9 L1031.0,855.1 L1032.0,855.5 L1033.0,856.1 L1034.0,856.8 L1035.0,857.8 L1036.0,858.9 L1037.0,860.2 L1038.0,861.6 L1039.0,863.2 L1040.0,864.9 L1041.0,866.8 L1042.0,868.8 L1043.0,870.9 L1044.0,873.1 L1045.0,875.4 L1046.0,877.7 L1047.0,880.2 L1048.0,882.7 L1049.0,885.2 L1050.0,887.8 L1051.0,890.3 L1052.0,892.9 L1053.0,895.5 L1054.0,898.1 L1055.0,900.6 L1056.0,903.1 L1057.0,905.6 L1058.0,908.0 L1059.0,910.3 L1060.0,912.6 L1061.0,914.8 L1062.0,917.0 L1063.0,919.1 L1064.0,921.0 L1065.0,922.9 L1066.0,924.7 L1067.0,926.5 L1068.0,928.1 L1069.0,929.6 L1070.0,931.1 L1071.0,932.5 L1072.0,933.8 L1073.0,935.0 L1074.0,936.1 L1075.0,937.1 L1076.0,938.1 L1077.0,939.0 L1078.0,939.8 L1079.0,940.6 L1080.0,941.3 L1081.0,942.0 L1082.0,942.6 L1083.0,943.1 L1084.0,943.6 L1085.0,944.1 L1086.0,944.5 L1087.0,944.8 L1088.0,945.2 L1089.0,945.5 L1090.0,945.7 L1091.0,946.0 L1092.0,946.2 L1093.0,946.4 L1094.0,946.6 L1095.0,946.7 L1096.0,946.9" fill="none" stroke="#555555" stroke-width="1.6" stroke-opacity="1.00"/>
<path d="M977.0,925.2 L978.0,925.2 L979.0,925.3 L980.0,925.3 L981.0,925.3 L982.0,925.3 L983.0,925.4 L984.0,925.4 L985.0,925.4 L986.0,925.4 L987.0,925.4 L988.0,925.5 L989.0,925.5 L990.0,925.5 L991.0,925.5 L992.0,925.5 L993.0,925.4 L994.0,925.4 L995.0,925.4 L996.0,925.3 L997.0,925.2 L998.0,925.1 L999.0,924.9 L1000.0,924.7 L1001.0,924.5 L1002.0,924.2 L1003.0,923.8 L1004.0,923.4 L1005.0,922.9 L1006.0,922.3 L1007.0,921.7 L1008.0,920.9 L1009.0,920.1 L1010.0,919.1 L1011.0,918.0 L1012.0,916.8 L1013.0,915.4 L1014.0,913.9 L1015.0,912.2 L1016.0,910.4 L1017.0,908.4 L1018.0,906.2 L1019.0,903.9 L1020.0,901.4 L1021.0,898.7 L1022.0,895.8 L1023.0,892.8 L1024.0,889.7 L1025.0,886.4 L1026.0,882.9 L1027.0,879.4 L1028.0,875.8 L1029.0,872.2 L1030.0,868.5 L1031.0,864.7 L1032.0,861.1 L1033.0,857.4 L1034.0,853.9 L1035.0,850.4 L1036.0,847.1 L1037.0,844.0 L1038.0,841.1 L1039.0,838.5 L1040.0,836.1 L1041.0,834.0 L1042.0,832.3 L1043.0,830.9 L1044.0,829.9 L1045.0,829.2 L1046.0,829.0 L1047.0,829.1 L1048.0,829.7 L1049.0,830.6 L1050.0,832.0 L1051.0,833.7 L1052.0,835.7 L1053.0,838.2 L1054.0,840.9 L1055.0,843.9 L1056.0,847.2 L1057.0,850.8 L1058.0,854.5 L1059.0,858.4 L1060.0,862.5 L1061.0,866.7 L1062.0,870.9 L1063.0,875.2 L1064.0,879.4 L1065.0,883.7 L1066.0,887.9 L1067.0,892.0 L1068.0,896.0 L1069.0,899.9 L1070.0,903.7 L1071.0,907.3 L1072.0,910.7 L1073.0,914.0 L1074.0,917.1 L1075.0,920.0 L1076.0,922.7 L1077.0,925.2 L1078.0,927.6 L1079.0,929.7 L1080.0,931.7 L1081.0,933.5 L1082.0,935.2 L1083.0,936.7 L1084.0,938.0 L1085.0,939.3 L1086.0,940.4 L1087.0,941.3 L1088.0,942.2 L1089.0,942.9 L1090.0,943.6 L1091.0,944.2 L1092.0,944.7 L1093.0,945.2 L1094.0,945.6 L1095.0,945.9 L1096.0,946.2" fill="none" stroke="#555555" stroke-width="1.6" stroke-opacity="1.00"/>
<path d="M977.0,922.4 L978.0,922.1 L979.0,921.7 L980.0,921.3 L981.0,920.9 L982.0,920.4 L983.0,919.8 L984.0,919.2 L985.0,918.5 L986.0,917.8 L987.0,917.0 L988.0,916.1 L989.0,915.2 L990.0,914.2 L991.0,913.1 L992.0,911.9 L993.0,910.6 L994.0,909.2 L995.0,907.8 L996.0,906.2 L997.0,904.5 L998.0,902.8 L999.0,900.9 L1000.0,898.9 L1001.0,896.7 L1002.0,894.5 L1003.0,892.2 L1004.0,889.7 L1005.0,887.1 L1006.0,884.3 L1007.0,881.5 L1008.0,878.5 L1009.0,875.4 L1010.0,872.1 L1011.0,868.7 L1012.0,865.2 L1013.0,861.6 L1014.0,857.8 L1015.0,854.0 L1016.0,850.0 L1017.0,845.9 L1018.0,841.8 L1019.0,837.5 L1020.0,833.2 L1021.0,828.8 L1022.0,824.3 L1023.0,819.9 L1024.0,815.4 L1025.0,810.9 L1026.0,806.5 L1027.0,802.1 L1028.0,797.9 L1029.0,793.7 L1030.0,789.6 L1031.0,785.8 L1032.0,782.1 L1033.0,778.6 L1034.0,775.5 L1035.0,772.6 L1036.0,770.0 L1037.0,767.8 L1038.0,765.9 L1039.0,764.5 L1040.0,763.5 L1041.0,762.9 L1042.0,762.7 L1043.0,763.1 L1044.0,763.9 L1045.0,765.2 L1046.0,766.9 L1047.0,769.2 L1048.0,771.9 L1049.0,775.0 L1050.0,778.6 L1051.0,782.6 L1052.0,786.9 L1053.0,791.6 L1054.0,796.6 L1055.0,801.9 L1056.0,807.5 L1057.0,813.2 L1058.0,819.1 L1059.0,825.1 L1060.0,831.2 L1061.0,837.4 L1062.0,843.6 L1063.0,849.7 L1064.0,855.7 L1065.0,861.7 L1066.0,867.5 L1067.0,873.2 L1068.0,878.7 L1069.0,884.0 L1070.0,889.1 L1071.0,893.9 L1072.0,898.5 L1073.0,902.9 L1074.0,907.0 L1075.0,910.8 L1076.0,914.4 L1077.0,917.8 L1078.0,920.8 L1079.0,923.7 L1080.0,926.3 L1081.0,928.7 L1082.0,930.9 L1083.0,932.8 L1084.0,934.6 L1085.0,936.2 L1086.0,937.7 L1087.0,938.9 L1088.0,940.1 L1089.0,941.1 L1090.0,942.0 L1091.0,942.8 L1092.0,943.5 L1093.0,944.1 L1094.0,944.6 L1095.0,945.1 L1096.0,945.5" fill="none" stroke="#555555" stroke-width="1.6" stroke-opacity="1.00"/>
<text x="134.5" y="153.7" font-size="46.36" fill="#111" textLength="25.2" lengthAdjust="spacingAndGlyphs">e</text>
<text x="136.2" y="302.0" font-size="46.94" fill="#111" textLength="25.5" lengthAdjust="spacingAndGlyphs">d</text>
<text x="134.0" y="443.2" font-size="47.45" fill="#111" textLength="22.4" lengthAdjust="spacingAndGlyphs">c</text>
<text x="136.3" y="574.3" font-size="46.53" fill="#111" textLength="25.1" lengthAdjust="spacingAndGlyphs">b</text>
<text x="139.1" y="730.7" font-size="47.45" fill="#111" textLength="21.4" lengthAdjust="spacingAndGlyphs">a</text>
<text x="658.4" y="297.2" font-size="47.27" fill="#111" textLength="25.4" lengthAdjust="spacingAndGlyphs">e</text>
<text x="656.4" y="433.0" font-size="46.39" fill="#111" textLength="25.6" lengthAdjust="spacingAndGlyphs">d</text>
<text x="656.0" y="552.2" font-size="47.09" fill="#111" textLength="24.0" lengthAdjust="spacingAndGlyphs">c</text>
<text x="656.0" y="709.8" font-size="46.67" fill="#111" textLength="25.3" lengthAdjust="spacingAndGlyphs">b</text>
<text x="656.7" y="883.7" font-size="46.73" fill="#111" textLength="22.1" lengthAdjust="spacingAndGlyphs">a</text>
<text x="1618.5" y="304.4" font-size="48.36" fill="#111" textLength="24.4" lengthAdjust="spacingAndGlyphs">e</text>
<text x="1617.9" y="447.9" font-size="46.39" fill="#111" textLength="24.5" lengthAdjust="spacingAndGlyphs">d</text>
<text x="1620.8" y="580.0" font-size="48.73" fill="#111" textLength="22.2" lengthAdjust="spacingAndGlyphs">c</text>
<text x="1620.1" y="732.0" font-size="46.39" fill="#111" textLength="25.7" lengthAdjust="spacingAndGlyphs">b</text>
<text x="1621.1" y="925.3" font-size="47.09" fill="#111" textLength="21.3" lengthAdjust="spacingAndGlyphs">a</text>
<text x="376.5" y="80.5" font-size="36.06" fill="#1c1c1c" textLength="40.4" lengthAdjust="spacingAndGlyphs">Ce</text>
<text x="416.3" y="60.2" font-size="22.75" fill="#1c1c1c" textLength="24.9" lengthAdjust="spacingAndGlyphs">4+</text>
<text x="442.5" y="122.7" font-size="36.06" fill="#1c1c1c" textLength="41.0" lengthAdjust="spacingAndGlyphs">Ce</text>
<text x="482.8" y="105.7" font-size="25.21" fill="#1c1c1c" textLength="25.3" lengthAdjust="spacingAndGlyphs">3+</text>
<text x="530.4" y="291.3" font-size="33.80" fill="#1c1c1c" textLength="61.5" lengthAdjust="spacingAndGlyphs">CeO</text>
<text x="591.9" y="302.9" font-size="18.45" fill="#4a4a4a" textLength="33.6" lengthAdjust="spacingAndGlyphs">1.88</text>
<text x="530.4" y="415.3" font-size="34.79" fill="#1c1c1c" textLength="61.5" lengthAdjust="spacingAndGlyphs">CeO</text>
<text x="592.2" y="427.0" font-size="18.59" fill="#4a4a4a" textLength="33.3" lengthAdjust="spacingAndGlyphs">1.88</text>
<text x="530.7" y="563.6" font-size="33.80" fill="#1c1c1c" textLength="61.2" lengthAdjust="spacingAndGlyphs">CeO</text>
<text x="591.9" y="575.6" font-size="19.01" fill="#4a4a4a" textLength="33.0" lengthAdjust="spacingAndGlyphs">1.92</text>
<text x="532.4" y="707.6" font-size="34.23" fill="#1c1c1c" textLength="61.9" lengthAdjust="spacingAndGlyphs">CeO</text>
<text x="593.9" y="720.3" font-size="19.58" fill="#4a4a4a" textLength="32.9" lengthAdjust="spacingAndGlyphs">1.85</text>
<text x="550.9" y="892.0" font-size="34.08" fill="#1c1c1c" textLength="61.9" lengthAdjust="spacingAndGlyphs">CeO</text>
<text x="610.7" y="905.3" font-size="21.57" fill="#4a4a4a" textLength="11.5" lengthAdjust="spacingAndGlyphs">2</text>
<text x="997.4" y="185.4" font-size="34.79" fill="#1c1c1c" textLength="41.2" lengthAdjust="spacingAndGlyphs">Co</text>
<text x="1037.4" y="169.1" font-size="25.57" fill="#1c1c1c" textLength="25.7" lengthAdjust="spacingAndGlyphs">2+</text>
<text x="1072.9" y="135.5" font-size="36.06" fill="#1c1c1c" textLength="40.7" lengthAdjust="spacingAndGlyphs">Co</text>
<text x="1111.6" y="118.1" font-size="25.35" fill="#1c1c1c" textLength="14.1" lengthAdjust="spacingAndGlyphs">0</text>
<text x="1090.1" y="791.4" font-size="34.93" fill="#1c1c1c" textLength="41.1" lengthAdjust="spacingAndGlyphs">Co</text>
<text x="1129.8" y="773.2" font-size="21.83" fill="#1c1c1c" textLength="20.3" lengthAdjust="spacingAndGlyphs">3+</text>
<text x="873.8" y="658.8" font-size="36.48" font-weight="bold" fill="#111" textLength="43.2" lengthAdjust="spacingAndGlyphs">Co</text>
<text x="917.3" y="665.4" font-size="23.24" font-weight="bold" fill="#111" textLength="11.7" lengthAdjust="spacingAndGlyphs">3</text>
<text x="928.7" y="658.8" font-size="36.06" font-weight="bold" fill="#111" textLength="25.0" lengthAdjust="spacingAndGlyphs">O</text>
<text x="953.4" y="665.3" font-size="22.90" font-weight="bold" fill="#111" textLength="11.6" lengthAdjust="spacingAndGlyphs">4</text>
<text x="1241.6" y="176.2" font-size="35.35" fill="#1c1c1c" textLength="48.0" lengthAdjust="spacingAndGlyphs">CO</text>
<text x="1288.7" y="189.1" font-size="19.29" fill="#1c1c1c" textLength="10.9" lengthAdjust="spacingAndGlyphs">2</text>
<text x="1299.2" y="176.9" font-size="34.44" fill="#1c1c1c" textLength="40.2" lengthAdjust="spacingAndGlyphs">(g)</text>
<text x="1420.4" y="211.8" font-size="37.04" fill="#1c1c1c" textLength="47.6" lengthAdjust="spacingAndGlyphs">CO</text>
<text x="1467.4" y="225.2" font-size="21.45" fill="#1c1c1c" textLength="13.2" lengthAdjust="spacingAndGlyphs">X</text>
<text x="1333.6" y="684.0" font-size="35.49" fill="#1c1c1c" textLength="47.8" lengthAdjust="spacingAndGlyphs">OH</text>
<text x="1216.2" y="896.3" font-size="33.69" fill="#2a2a2a" textLength="191.4" lengthAdjust="spacingAndGlyphs">lattice oxygen</text>
<line x1="1035.1" y1="753.5" x2="979.7" y2="675.6" stroke="#111" stroke-width="2.4"/>
<polygon points="969.9,661.7 986.2,673.4 975.6,681.0" fill="#111"/>
<line x1="1089.6" y1="789.9" x2="1068.1" y2="803.6" stroke="#666" stroke-width="1.6"/>
<polygon points="1052.9,813.2 1066.6,797.4 1073.0,807.5" fill="#111"/>
<line x1="1375.5" y1="645.9" x2="1400.5" y2="637.2" stroke="#666" stroke-width="1.5"/>
<polygon points="1419.4,630.6 1400.6,643.5 1396.7,632.2" fill="#111"/>
<line x1="1419.5" y1="875.8" x2="1506.9" y2="823.4" stroke="#666" stroke-width="1.5"/>
<polygon points="1524.0,813.1 1508.2,829.6 1502.0,819.3" fill="#111"/>
<path d="M993.0,780.4 L993.0,758 Q993.0,753.8 997,753.8 L1079.5,753.8 Q1083.6,753.8 1083.6,758 L1083.6,780.9" fill="none" stroke="#111" stroke-width="2.2"/>
</g>
</svg>
</body></html>
